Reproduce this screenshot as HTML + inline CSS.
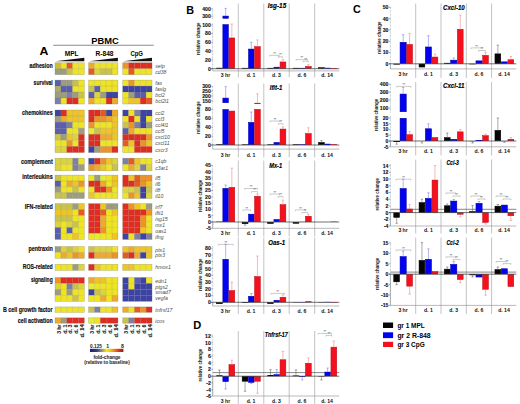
<!DOCTYPE html>
<html><head><meta charset="utf-8"><title>figure</title>
<style>
html,body{margin:0;padding:0;background:#fff;}
body{width:520px;height:404px;overflow:hidden;}
svg{display:block;font-family:"Liberation Sans", sans-serif;}
</style></head><body>
<svg width="520" height="404" viewBox="0 0 520 404" font-family='"Liberation Sans", sans-serif'>
<rect x="0" y="0" width="520" height="404" fill="#fff"/>
<text x="39.40" y="54.90" font-size="10.8" font-weight="bold" text-anchor="start" fill="#000" font-style="normal" textLength="8.9" lengthAdjust="spacingAndGlyphs" >A</text>
<text x="105.00" y="43.70" font-size="9.2" font-weight="bold" text-anchor="middle" fill="#000" font-style="normal" textLength="27.5" lengthAdjust="spacingAndGlyphs" >PBMC</text>
<line x1="53.20" y1="45.20" x2="153.70" y2="45.20" stroke="#8a8a8a" stroke-width="1.1" />
<text x="71.70" y="55.80" font-size="7.0" font-weight="bold" text-anchor="middle" fill="#000" font-style="normal" textLength="13.8" lengthAdjust="spacingAndGlyphs" >MPL</text>
<text x="104.50" y="55.80" font-size="7.0" font-weight="bold" text-anchor="middle" fill="#000" font-style="normal" textLength="18.0" lengthAdjust="spacingAndGlyphs" >R-848</text>
<text x="136.70" y="55.80" font-size="7.0" font-weight="bold" text-anchor="middle" fill="#000" font-style="normal" textLength="12.6" lengthAdjust="spacingAndGlyphs" >CpG</text>
<polygon points="55.30,61.2 84.30,57.7 84.30,61.2" fill="#111"/>
<polygon points="88.90,61.2 117.90,57.7 117.90,61.2" fill="#111"/>
<polygon points="123.00,61.2 152.00,57.7 152.00,61.2" fill="#111"/>
<rect x="55.00" y="62.75" width="5.91" height="5.97" fill="#d4bc2c" />
<rect x="60.86" y="62.75" width="5.91" height="5.97" fill="#efe424" />
<rect x="66.72" y="62.75" width="5.91" height="5.97" fill="#e45a22" />
<rect x="72.58" y="62.75" width="5.91" height="5.97" fill="#efe424" />
<rect x="78.44" y="62.75" width="5.91" height="5.97" fill="#efe424" />
<rect x="55.00" y="68.67" width="5.91" height="5.97" fill="#9c9c80" />
<rect x="60.86" y="68.67" width="5.91" height="5.97" fill="#9c9c80" />
<rect x="66.72" y="68.67" width="5.91" height="5.97" fill="#c9c34c" />
<rect x="72.58" y="68.67" width="5.91" height="5.97" fill="#efe424" />
<rect x="78.44" y="68.67" width="5.91" height="5.97" fill="#efe424" />
<line x1="60.86" y1="62.75" x2="60.86" y2="74.60" stroke="rgba(90,90,40,0.3)" stroke-width="0.5" />
<line x1="66.72" y1="62.75" x2="66.72" y2="74.60" stroke="rgba(90,90,40,0.3)" stroke-width="0.5" />
<line x1="72.58" y1="62.75" x2="72.58" y2="74.60" stroke="rgba(90,90,40,0.3)" stroke-width="0.5" />
<line x1="78.44" y1="62.75" x2="78.44" y2="74.60" stroke="rgba(90,90,40,0.3)" stroke-width="0.5" />
<line x1="55.00" y1="68.67" x2="84.30" y2="68.67" stroke="rgba(90,90,40,0.3)" stroke-width="0.5" />
<rect x="55.00" y="62.75" width="29.30" height="11.85" fill="none" stroke="rgba(110,110,90,0.4)" stroke-width="0.6"/>
<rect x="88.60" y="62.75" width="5.91" height="5.97" fill="#eeaa2c" />
<rect x="94.46" y="62.75" width="5.91" height="5.97" fill="#efe424" />
<rect x="100.32" y="62.75" width="5.91" height="5.97" fill="#efe424" />
<rect x="106.18" y="62.75" width="5.91" height="5.97" fill="#efe424" />
<rect x="112.04" y="62.75" width="5.91" height="5.97" fill="#efe424" />
<rect x="88.60" y="68.67" width="5.91" height="5.97" fill="#e45a22" />
<rect x="94.46" y="68.67" width="5.91" height="5.97" fill="#dcd43c" />
<rect x="100.32" y="68.67" width="5.91" height="5.97" fill="#c9c34c" />
<rect x="106.18" y="68.67" width="5.91" height="5.97" fill="#c9c34c" />
<rect x="112.04" y="68.67" width="5.91" height="5.97" fill="#efe424" />
<line x1="94.46" y1="62.75" x2="94.46" y2="74.60" stroke="rgba(90,90,40,0.3)" stroke-width="0.5" />
<line x1="100.32" y1="62.75" x2="100.32" y2="74.60" stroke="rgba(90,90,40,0.3)" stroke-width="0.5" />
<line x1="106.18" y1="62.75" x2="106.18" y2="74.60" stroke="rgba(90,90,40,0.3)" stroke-width="0.5" />
<line x1="112.04" y1="62.75" x2="112.04" y2="74.60" stroke="rgba(90,90,40,0.3)" stroke-width="0.5" />
<line x1="88.60" y1="68.67" x2="117.90" y2="68.67" stroke="rgba(90,90,40,0.3)" stroke-width="0.5" />
<rect x="88.60" y="62.75" width="29.30" height="11.85" fill="none" stroke="rgba(110,110,90,0.4)" stroke-width="0.6"/>
<rect x="122.70" y="62.75" width="5.91" height="5.97" fill="#ee9426" />
<rect x="128.56" y="62.75" width="5.91" height="5.97" fill="#e02c22" />
<rect x="134.42" y="62.75" width="5.91" height="5.97" fill="#e02c22" />
<rect x="140.28" y="62.75" width="5.91" height="5.97" fill="#e02c22" />
<rect x="146.14" y="62.75" width="5.91" height="5.97" fill="#e02c22" />
<rect x="122.70" y="68.67" width="5.91" height="5.97" fill="#efe424" />
<rect x="128.56" y="68.67" width="5.91" height="5.97" fill="#e45a22" />
<rect x="134.42" y="68.67" width="5.91" height="5.97" fill="#efe424" />
<rect x="140.28" y="68.67" width="5.91" height="5.97" fill="#efe424" />
<rect x="146.14" y="68.67" width="5.91" height="5.97" fill="#efe424" />
<line x1="128.56" y1="62.75" x2="128.56" y2="74.60" stroke="rgba(90,90,40,0.3)" stroke-width="0.5" />
<line x1="134.42" y1="62.75" x2="134.42" y2="74.60" stroke="rgba(90,90,40,0.3)" stroke-width="0.5" />
<line x1="140.28" y1="62.75" x2="140.28" y2="74.60" stroke="rgba(90,90,40,0.3)" stroke-width="0.5" />
<line x1="146.14" y1="62.75" x2="146.14" y2="74.60" stroke="rgba(90,90,40,0.3)" stroke-width="0.5" />
<line x1="122.70" y1="68.67" x2="152.00" y2="68.67" stroke="rgba(90,90,40,0.3)" stroke-width="0.5" />
<rect x="122.70" y="62.75" width="29.30" height="11.85" fill="none" stroke="rgba(110,110,90,0.4)" stroke-width="0.6"/>
<text x="52.70" y="67.91" font-size="6.7" font-weight="bold" text-anchor="end" fill="#111" font-style="normal" textLength="23.2" lengthAdjust="spacingAndGlyphs" stroke="#111" stroke-width="0.18">adhesion</text>
<g transform="translate(155.3 0) scale(0.86 1)">
<text x="0.00" y="67.81" font-size="6.0" font-weight="normal" text-anchor="start" fill="#4a4a4a" font-style="italic" >selp</text>
</g>
<g transform="translate(155.3 0) scale(0.86 1)">
<text x="0.00" y="73.74" font-size="6.0" font-weight="normal" text-anchor="start" fill="#4a4a4a" font-style="italic" >cd38</text>
</g>
<rect x="55.00" y="80.10" width="5.91" height="6.03" fill="#5a5eae" />
<rect x="60.86" y="80.10" width="5.91" height="6.03" fill="#9c9c80" />
<rect x="66.72" y="80.10" width="5.91" height="6.03" fill="#9c9c80" />
<rect x="72.58" y="80.10" width="5.91" height="6.03" fill="#c9c34c" />
<rect x="78.44" y="80.10" width="5.91" height="6.03" fill="#efe424" />
<rect x="55.00" y="86.07" width="5.91" height="6.03" fill="#b0ac68" />
<rect x="60.86" y="86.07" width="5.91" height="6.03" fill="#5a5eae" />
<rect x="66.72" y="86.07" width="5.91" height="6.03" fill="#5a5eae" />
<rect x="72.58" y="86.07" width="5.91" height="6.03" fill="#efe424" />
<rect x="78.44" y="86.07" width="5.91" height="6.03" fill="#efe424" />
<rect x="55.00" y="92.05" width="5.91" height="6.03" fill="#9c9c80" />
<rect x="60.86" y="92.05" width="5.91" height="6.03" fill="#9c9c80" />
<rect x="66.72" y="92.05" width="5.91" height="6.03" fill="#7d7fa6" />
<rect x="72.58" y="92.05" width="5.91" height="6.03" fill="#9c9c80" />
<rect x="78.44" y="92.05" width="5.91" height="6.03" fill="#c9c34c" />
<rect x="55.00" y="98.03" width="5.91" height="6.03" fill="#7d7fa6" />
<rect x="60.86" y="98.03" width="5.91" height="6.03" fill="#efe424" />
<rect x="66.72" y="98.03" width="5.91" height="6.03" fill="#e02c22" />
<rect x="72.58" y="98.03" width="5.91" height="6.03" fill="#e02c22" />
<rect x="78.44" y="98.03" width="5.91" height="6.03" fill="#efe424" />
<line x1="60.86" y1="80.10" x2="60.86" y2="104.00" stroke="rgba(90,90,40,0.3)" stroke-width="0.5" />
<line x1="66.72" y1="80.10" x2="66.72" y2="104.00" stroke="rgba(90,90,40,0.3)" stroke-width="0.5" />
<line x1="72.58" y1="80.10" x2="72.58" y2="104.00" stroke="rgba(90,90,40,0.3)" stroke-width="0.5" />
<line x1="78.44" y1="80.10" x2="78.44" y2="104.00" stroke="rgba(90,90,40,0.3)" stroke-width="0.5" />
<line x1="55.00" y1="86.07" x2="84.30" y2="86.07" stroke="rgba(90,90,40,0.3)" stroke-width="0.5" />
<line x1="55.00" y1="92.05" x2="84.30" y2="92.05" stroke="rgba(90,90,40,0.3)" stroke-width="0.5" />
<line x1="55.00" y1="98.03" x2="84.30" y2="98.03" stroke="rgba(90,90,40,0.3)" stroke-width="0.5" />
<rect x="55.00" y="80.10" width="29.30" height="23.90" fill="none" stroke="rgba(110,110,90,0.4)" stroke-width="0.6"/>
<rect x="88.60" y="80.10" width="5.91" height="6.03" fill="#efe424" />
<rect x="94.46" y="80.10" width="5.91" height="6.03" fill="#efe424" />
<rect x="100.32" y="80.10" width="5.91" height="6.03" fill="#efe424" />
<rect x="106.18" y="80.10" width="5.91" height="6.03" fill="#efe424" />
<rect x="112.04" y="80.10" width="5.91" height="6.03" fill="#efe424" />
<rect x="88.60" y="86.07" width="5.91" height="6.03" fill="#c9c34c" />
<rect x="94.46" y="86.07" width="5.91" height="6.03" fill="#5a5eae" />
<rect x="100.32" y="86.07" width="5.91" height="6.03" fill="#efe424" />
<rect x="106.18" y="86.07" width="5.91" height="6.03" fill="#efe424" />
<rect x="112.04" y="86.07" width="5.91" height="6.03" fill="#efe424" />
<rect x="88.60" y="92.05" width="5.91" height="6.03" fill="#5a5eae" />
<rect x="94.46" y="92.05" width="5.91" height="6.03" fill="#dcd43c" />
<rect x="100.32" y="92.05" width="5.91" height="6.03" fill="#9c9c80" />
<rect x="106.18" y="92.05" width="5.91" height="6.03" fill="#3c42a6" />
<rect x="112.04" y="92.05" width="5.91" height="6.03" fill="#3c42a6" />
<rect x="88.60" y="98.03" width="5.91" height="6.03" fill="#eeaa2c" />
<rect x="94.46" y="98.03" width="5.91" height="6.03" fill="#efe424" />
<rect x="100.32" y="98.03" width="5.91" height="6.03" fill="#efe424" />
<rect x="106.18" y="98.03" width="5.91" height="6.03" fill="#e02c22" />
<rect x="112.04" y="98.03" width="5.91" height="6.03" fill="#eeaa2c" />
<line x1="94.46" y1="80.10" x2="94.46" y2="104.00" stroke="rgba(90,90,40,0.3)" stroke-width="0.5" />
<line x1="100.32" y1="80.10" x2="100.32" y2="104.00" stroke="rgba(90,90,40,0.3)" stroke-width="0.5" />
<line x1="106.18" y1="80.10" x2="106.18" y2="104.00" stroke="rgba(90,90,40,0.3)" stroke-width="0.5" />
<line x1="112.04" y1="80.10" x2="112.04" y2="104.00" stroke="rgba(90,90,40,0.3)" stroke-width="0.5" />
<line x1="88.60" y1="86.07" x2="117.90" y2="86.07" stroke="rgba(90,90,40,0.3)" stroke-width="0.5" />
<line x1="88.60" y1="92.05" x2="117.90" y2="92.05" stroke="rgba(90,90,40,0.3)" stroke-width="0.5" />
<line x1="88.60" y1="98.03" x2="117.90" y2="98.03" stroke="rgba(90,90,40,0.3)" stroke-width="0.5" />
<rect x="88.60" y="80.10" width="29.30" height="23.90" fill="none" stroke="rgba(110,110,90,0.4)" stroke-width="0.6"/>
<rect x="122.70" y="80.10" width="5.91" height="6.03" fill="#efe424" />
<rect x="128.56" y="80.10" width="5.91" height="6.03" fill="#ee9426" />
<rect x="134.42" y="80.10" width="5.91" height="6.03" fill="#efe424" />
<rect x="140.28" y="80.10" width="5.91" height="6.03" fill="#efe424" />
<rect x="146.14" y="80.10" width="5.91" height="6.03" fill="#efe424" />
<rect x="122.70" y="86.07" width="5.91" height="6.03" fill="#3c42a6" />
<rect x="128.56" y="86.07" width="5.91" height="6.03" fill="#3c42a6" />
<rect x="134.42" y="86.07" width="5.91" height="6.03" fill="#3c42a6" />
<rect x="140.28" y="86.07" width="5.91" height="6.03" fill="#3c42a6" />
<rect x="146.14" y="86.07" width="5.91" height="6.03" fill="#3c42a6" />
<rect x="122.70" y="92.05" width="5.91" height="6.03" fill="#efe424" />
<rect x="128.56" y="92.05" width="5.91" height="6.03" fill="#9c9c80" />
<rect x="134.42" y="92.05" width="5.91" height="6.03" fill="#5a5eae" />
<rect x="140.28" y="92.05" width="5.91" height="6.03" fill="#5a5eae" />
<rect x="146.14" y="92.05" width="5.91" height="6.03" fill="#efe424" />
<rect x="122.70" y="98.03" width="5.91" height="6.03" fill="#efe424" />
<rect x="128.56" y="98.03" width="5.91" height="6.03" fill="#eec524" />
<rect x="134.42" y="98.03" width="5.91" height="6.03" fill="#eec524" />
<rect x="140.28" y="98.03" width="5.91" height="6.03" fill="#e02c22" />
<rect x="146.14" y="98.03" width="5.91" height="6.03" fill="#e45a22" />
<line x1="128.56" y1="80.10" x2="128.56" y2="104.00" stroke="rgba(90,90,40,0.3)" stroke-width="0.5" />
<line x1="134.42" y1="80.10" x2="134.42" y2="104.00" stroke="rgba(90,90,40,0.3)" stroke-width="0.5" />
<line x1="140.28" y1="80.10" x2="140.28" y2="104.00" stroke="rgba(90,90,40,0.3)" stroke-width="0.5" />
<line x1="146.14" y1="80.10" x2="146.14" y2="104.00" stroke="rgba(90,90,40,0.3)" stroke-width="0.5" />
<line x1="122.70" y1="86.07" x2="152.00" y2="86.07" stroke="rgba(90,90,40,0.3)" stroke-width="0.5" />
<line x1="122.70" y1="92.05" x2="152.00" y2="92.05" stroke="rgba(90,90,40,0.3)" stroke-width="0.5" />
<line x1="122.70" y1="98.03" x2="152.00" y2="98.03" stroke="rgba(90,90,40,0.3)" stroke-width="0.5" />
<rect x="122.70" y="80.10" width="29.30" height="23.90" fill="none" stroke="rgba(110,110,90,0.4)" stroke-width="0.6"/>
<text x="52.70" y="85.29" font-size="6.7" font-weight="bold" text-anchor="end" fill="#111" font-style="normal" textLength="19.1" lengthAdjust="spacingAndGlyphs" stroke="#111" stroke-width="0.18">survival</text>
<g transform="translate(155.3 0) scale(0.86 1)">
<text x="0.00" y="85.19" font-size="6.0" font-weight="normal" text-anchor="start" fill="#4a4a4a" font-style="italic" >fas</text>
</g>
<g transform="translate(155.3 0) scale(0.86 1)">
<text x="0.00" y="91.16" font-size="6.0" font-weight="normal" text-anchor="start" fill="#4a4a4a" font-style="italic" >faslg</text>
</g>
<g transform="translate(155.3 0) scale(0.86 1)">
<text x="0.00" y="97.14" font-size="6.0" font-weight="normal" text-anchor="start" fill="#4a4a4a" font-style="italic" >bcl2</text>
</g>
<g transform="translate(155.3 0) scale(0.86 1)">
<text x="0.00" y="103.11" font-size="6.0" font-weight="normal" text-anchor="start" fill="#4a4a4a" font-style="italic" >bcl2l1</text>
</g>
<rect x="55.00" y="110.00" width="5.91" height="6.12" fill="#3c42a6" />
<rect x="60.86" y="110.00" width="5.91" height="6.12" fill="#e02c22" />
<rect x="66.72" y="110.00" width="5.91" height="6.12" fill="#eec524" />
<rect x="72.58" y="110.00" width="5.91" height="6.12" fill="#eec524" />
<rect x="78.44" y="110.00" width="5.91" height="6.12" fill="#eec524" />
<rect x="55.00" y="116.07" width="5.91" height="6.12" fill="#9c9c80" />
<rect x="60.86" y="116.07" width="5.91" height="6.12" fill="#eeaa2c" />
<rect x="66.72" y="116.07" width="5.91" height="6.12" fill="#eec524" />
<rect x="72.58" y="116.07" width="5.91" height="6.12" fill="#eec524" />
<rect x="78.44" y="116.07" width="5.91" height="6.12" fill="#eec524" />
<rect x="55.00" y="122.14" width="5.91" height="6.12" fill="#5a5eae" />
<rect x="60.86" y="122.14" width="5.91" height="6.12" fill="#5a5eae" />
<rect x="66.72" y="122.14" width="5.91" height="6.12" fill="#7d7fa6" />
<rect x="72.58" y="122.14" width="5.91" height="6.12" fill="#efe424" />
<rect x="78.44" y="122.14" width="5.91" height="6.12" fill="#efe424" />
<rect x="55.00" y="128.21" width="5.91" height="6.12" fill="#5a5eae" />
<rect x="60.86" y="128.21" width="5.91" height="6.12" fill="#5a5eae" />
<rect x="66.72" y="128.21" width="5.91" height="6.12" fill="#efe424" />
<rect x="72.58" y="128.21" width="5.91" height="6.12" fill="#efe424" />
<rect x="78.44" y="128.21" width="5.91" height="6.12" fill="#9c9c80" />
<rect x="55.00" y="134.29" width="5.91" height="6.12" fill="#c9c34c" />
<rect x="60.86" y="134.29" width="5.91" height="6.12" fill="#9c9c80" />
<rect x="66.72" y="134.29" width="5.91" height="6.12" fill="#eec524" />
<rect x="72.58" y="134.29" width="5.91" height="6.12" fill="#dcd43c" />
<rect x="78.44" y="134.29" width="5.91" height="6.12" fill="#e02c22" />
<rect x="55.00" y="140.36" width="5.91" height="6.12" fill="#efe424" />
<rect x="60.86" y="140.36" width="5.91" height="6.12" fill="#efe424" />
<rect x="66.72" y="140.36" width="5.91" height="6.12" fill="#ee9426" />
<rect x="72.58" y="140.36" width="5.91" height="6.12" fill="#efe424" />
<rect x="78.44" y="140.36" width="5.91" height="6.12" fill="#e02c22" />
<rect x="55.00" y="146.43" width="5.91" height="6.12" fill="#dcd43c" />
<rect x="60.86" y="146.43" width="5.91" height="6.12" fill="#dcd43c" />
<rect x="66.72" y="146.43" width="5.91" height="6.12" fill="#e02c22" />
<rect x="72.58" y="146.43" width="5.91" height="6.12" fill="#e02c22" />
<rect x="78.44" y="146.43" width="5.91" height="6.12" fill="#e02c22" />
<line x1="60.86" y1="110.00" x2="60.86" y2="152.50" stroke="rgba(90,90,40,0.3)" stroke-width="0.5" />
<line x1="66.72" y1="110.00" x2="66.72" y2="152.50" stroke="rgba(90,90,40,0.3)" stroke-width="0.5" />
<line x1="72.58" y1="110.00" x2="72.58" y2="152.50" stroke="rgba(90,90,40,0.3)" stroke-width="0.5" />
<line x1="78.44" y1="110.00" x2="78.44" y2="152.50" stroke="rgba(90,90,40,0.3)" stroke-width="0.5" />
<line x1="55.00" y1="116.07" x2="84.30" y2="116.07" stroke="rgba(90,90,40,0.3)" stroke-width="0.5" />
<line x1="55.00" y1="122.14" x2="84.30" y2="122.14" stroke="rgba(90,90,40,0.3)" stroke-width="0.5" />
<line x1="55.00" y1="128.21" x2="84.30" y2="128.21" stroke="rgba(90,90,40,0.3)" stroke-width="0.5" />
<line x1="55.00" y1="134.29" x2="84.30" y2="134.29" stroke="rgba(90,90,40,0.3)" stroke-width="0.5" />
<line x1="55.00" y1="140.36" x2="84.30" y2="140.36" stroke="rgba(90,90,40,0.3)" stroke-width="0.5" />
<line x1="55.00" y1="146.43" x2="84.30" y2="146.43" stroke="rgba(90,90,40,0.3)" stroke-width="0.5" />
<rect x="55.00" y="110.00" width="29.30" height="42.50" fill="none" stroke="rgba(110,110,90,0.4)" stroke-width="0.6"/>
<rect x="88.60" y="110.00" width="5.91" height="6.12" fill="#e02c22" />
<rect x="94.46" y="110.00" width="5.91" height="6.12" fill="#e02c22" />
<rect x="100.32" y="110.00" width="5.91" height="6.12" fill="#e45a22" />
<rect x="106.18" y="110.00" width="5.91" height="6.12" fill="#3c42a6" />
<rect x="112.04" y="110.00" width="5.91" height="6.12" fill="#eeaa2c" />
<rect x="88.60" y="116.07" width="5.91" height="6.12" fill="#e02c22" />
<rect x="94.46" y="116.07" width="5.91" height="6.12" fill="#ee9426" />
<rect x="100.32" y="116.07" width="5.91" height="6.12" fill="#ee9426" />
<rect x="106.18" y="116.07" width="5.91" height="6.12" fill="#eeaa2c" />
<rect x="112.04" y="116.07" width="5.91" height="6.12" fill="#eec524" />
<rect x="88.60" y="122.14" width="5.91" height="6.12" fill="#ee9426" />
<rect x="94.46" y="122.14" width="5.91" height="6.12" fill="#efe424" />
<rect x="100.32" y="122.14" width="5.91" height="6.12" fill="#efe424" />
<rect x="106.18" y="122.14" width="5.91" height="6.12" fill="#efe424" />
<rect x="112.04" y="122.14" width="5.91" height="6.12" fill="#eec524" />
<rect x="88.60" y="128.21" width="5.91" height="6.12" fill="#e4ee30" />
<rect x="94.46" y="128.21" width="5.91" height="6.12" fill="#c9c34c" />
<rect x="100.32" y="128.21" width="5.91" height="6.12" fill="#eec524" />
<rect x="106.18" y="128.21" width="5.91" height="6.12" fill="#eec524" />
<rect x="112.04" y="128.21" width="5.91" height="6.12" fill="#eec524" />
<rect x="88.60" y="134.29" width="5.91" height="6.12" fill="#e02c22" />
<rect x="94.46" y="134.29" width="5.91" height="6.12" fill="#e02c22" />
<rect x="100.32" y="134.29" width="5.91" height="6.12" fill="#eeaa2c" />
<rect x="106.18" y="134.29" width="5.91" height="6.12" fill="#eeaa2c" />
<rect x="112.04" y="134.29" width="5.91" height="6.12" fill="#eec524" />
<rect x="88.60" y="140.36" width="5.91" height="6.12" fill="#e02c22" />
<rect x="94.46" y="140.36" width="5.91" height="6.12" fill="#e02c22" />
<rect x="100.32" y="140.36" width="5.91" height="6.12" fill="#efe424" />
<rect x="106.18" y="140.36" width="5.91" height="6.12" fill="#efe424" />
<rect x="112.04" y="140.36" width="5.91" height="6.12" fill="#efe424" />
<rect x="88.60" y="146.43" width="5.91" height="6.12" fill="#3c42a6" />
<rect x="94.46" y="146.43" width="5.91" height="6.12" fill="#9c9c80" />
<rect x="100.32" y="146.43" width="5.91" height="6.12" fill="#ee9426" />
<rect x="106.18" y="146.43" width="5.91" height="6.12" fill="#ee9426" />
<rect x="112.04" y="146.43" width="5.91" height="6.12" fill="#e02c22" />
<line x1="94.46" y1="110.00" x2="94.46" y2="152.50" stroke="rgba(90,90,40,0.3)" stroke-width="0.5" />
<line x1="100.32" y1="110.00" x2="100.32" y2="152.50" stroke="rgba(90,90,40,0.3)" stroke-width="0.5" />
<line x1="106.18" y1="110.00" x2="106.18" y2="152.50" stroke="rgba(90,90,40,0.3)" stroke-width="0.5" />
<line x1="112.04" y1="110.00" x2="112.04" y2="152.50" stroke="rgba(90,90,40,0.3)" stroke-width="0.5" />
<line x1="88.60" y1="116.07" x2="117.90" y2="116.07" stroke="rgba(90,90,40,0.3)" stroke-width="0.5" />
<line x1="88.60" y1="122.14" x2="117.90" y2="122.14" stroke="rgba(90,90,40,0.3)" stroke-width="0.5" />
<line x1="88.60" y1="128.21" x2="117.90" y2="128.21" stroke="rgba(90,90,40,0.3)" stroke-width="0.5" />
<line x1="88.60" y1="134.29" x2="117.90" y2="134.29" stroke="rgba(90,90,40,0.3)" stroke-width="0.5" />
<line x1="88.60" y1="140.36" x2="117.90" y2="140.36" stroke="rgba(90,90,40,0.3)" stroke-width="0.5" />
<line x1="88.60" y1="146.43" x2="117.90" y2="146.43" stroke="rgba(90,90,40,0.3)" stroke-width="0.5" />
<rect x="88.60" y="110.00" width="29.30" height="42.50" fill="none" stroke="rgba(110,110,90,0.4)" stroke-width="0.6"/>
<rect x="122.70" y="110.00" width="5.91" height="6.12" fill="#3c42a6" />
<rect x="128.56" y="110.00" width="5.91" height="6.12" fill="#efe424" />
<rect x="134.42" y="110.00" width="5.91" height="6.12" fill="#7d7fa6" />
<rect x="140.28" y="110.00" width="5.91" height="6.12" fill="#3c42a6" />
<rect x="146.14" y="110.00" width="5.91" height="6.12" fill="#3c42a6" />
<rect x="122.70" y="116.07" width="5.91" height="6.12" fill="#efe424" />
<rect x="128.56" y="116.07" width="5.91" height="6.12" fill="#e02c22" />
<rect x="134.42" y="116.07" width="5.91" height="6.12" fill="#efe424" />
<rect x="140.28" y="116.07" width="5.91" height="6.12" fill="#3c42a6" />
<rect x="146.14" y="116.07" width="5.91" height="6.12" fill="#efe424" />
<rect x="122.70" y="122.14" width="5.91" height="6.12" fill="#c9c34c" />
<rect x="128.56" y="122.14" width="5.91" height="6.12" fill="#ee9426" />
<rect x="134.42" y="122.14" width="5.91" height="6.12" fill="#7d7fa6" />
<rect x="140.28" y="122.14" width="5.91" height="6.12" fill="#3c42a6" />
<rect x="146.14" y="122.14" width="5.91" height="6.12" fill="#9c9c80" />
<rect x="122.70" y="128.21" width="5.91" height="6.12" fill="#5a5eae" />
<rect x="128.56" y="128.21" width="5.91" height="6.12" fill="#eeaa2c" />
<rect x="134.42" y="128.21" width="5.91" height="6.12" fill="#efe424" />
<rect x="140.28" y="128.21" width="5.91" height="6.12" fill="#efe424" />
<rect x="146.14" y="128.21" width="5.91" height="6.12" fill="#efe424" />
<rect x="122.70" y="134.29" width="5.91" height="6.12" fill="#e02c22" />
<rect x="128.56" y="134.29" width="5.91" height="6.12" fill="#e02c22" />
<rect x="134.42" y="134.29" width="5.91" height="6.12" fill="#e02c22" />
<rect x="140.28" y="134.29" width="5.91" height="6.12" fill="#e02c22" />
<rect x="146.14" y="134.29" width="5.91" height="6.12" fill="#ee9426" />
<rect x="122.70" y="140.36" width="5.91" height="6.12" fill="#e45a22" />
<rect x="128.56" y="140.36" width="5.91" height="6.12" fill="#eec524" />
<rect x="134.42" y="140.36" width="5.91" height="6.12" fill="#e02c22" />
<rect x="140.28" y="140.36" width="5.91" height="6.12" fill="#ee9426" />
<rect x="146.14" y="140.36" width="5.91" height="6.12" fill="#eec524" />
<rect x="122.70" y="146.43" width="5.91" height="6.12" fill="#efe424" />
<rect x="128.56" y="146.43" width="5.91" height="6.12" fill="#efe424" />
<rect x="134.42" y="146.43" width="5.91" height="6.12" fill="#e02c22" />
<rect x="140.28" y="146.43" width="5.91" height="6.12" fill="#e02c22" />
<rect x="146.14" y="146.43" width="5.91" height="6.12" fill="#e02c22" />
<line x1="128.56" y1="110.00" x2="128.56" y2="152.50" stroke="rgba(90,90,40,0.3)" stroke-width="0.5" />
<line x1="134.42" y1="110.00" x2="134.42" y2="152.50" stroke="rgba(90,90,40,0.3)" stroke-width="0.5" />
<line x1="140.28" y1="110.00" x2="140.28" y2="152.50" stroke="rgba(90,90,40,0.3)" stroke-width="0.5" />
<line x1="146.14" y1="110.00" x2="146.14" y2="152.50" stroke="rgba(90,90,40,0.3)" stroke-width="0.5" />
<line x1="122.70" y1="116.07" x2="152.00" y2="116.07" stroke="rgba(90,90,40,0.3)" stroke-width="0.5" />
<line x1="122.70" y1="122.14" x2="152.00" y2="122.14" stroke="rgba(90,90,40,0.3)" stroke-width="0.5" />
<line x1="122.70" y1="128.21" x2="152.00" y2="128.21" stroke="rgba(90,90,40,0.3)" stroke-width="0.5" />
<line x1="122.70" y1="134.29" x2="152.00" y2="134.29" stroke="rgba(90,90,40,0.3)" stroke-width="0.5" />
<line x1="122.70" y1="140.36" x2="152.00" y2="140.36" stroke="rgba(90,90,40,0.3)" stroke-width="0.5" />
<line x1="122.70" y1="146.43" x2="152.00" y2="146.43" stroke="rgba(90,90,40,0.3)" stroke-width="0.5" />
<rect x="122.70" y="110.00" width="29.30" height="42.50" fill="none" stroke="rgba(110,110,90,0.4)" stroke-width="0.6"/>
<text x="52.70" y="115.24" font-size="6.7" font-weight="bold" text-anchor="end" fill="#111" font-style="normal" textLength="30.7" lengthAdjust="spacingAndGlyphs" stroke="#111" stroke-width="0.18">chemokines</text>
<g transform="translate(155.3 0) scale(0.86 1)">
<text x="0.00" y="115.14" font-size="6.0" font-weight="normal" text-anchor="start" fill="#4a4a4a" font-style="italic" >ccl2</text>
</g>
<g transform="translate(155.3 0) scale(0.86 1)">
<text x="0.00" y="121.21" font-size="6.0" font-weight="normal" text-anchor="start" fill="#4a4a4a" font-style="italic" >ccl3</text>
</g>
<g transform="translate(155.3 0) scale(0.86 1)">
<text x="0.00" y="127.28" font-size="6.0" font-weight="normal" text-anchor="start" fill="#4a4a4a" font-style="italic" >ccl4l1</text>
</g>
<g transform="translate(155.3 0) scale(0.86 1)">
<text x="0.00" y="133.35" font-size="6.0" font-weight="normal" text-anchor="start" fill="#4a4a4a" font-style="italic" >ccl5</text>
</g>
<g transform="translate(155.3 0) scale(0.86 1)">
<text x="0.00" y="139.42" font-size="6.0" font-weight="normal" text-anchor="start" fill="#4a4a4a" font-style="italic" >cxcl10</text>
</g>
<g transform="translate(155.3 0) scale(0.86 1)">
<text x="0.00" y="145.49" font-size="6.0" font-weight="normal" text-anchor="start" fill="#4a4a4a" font-style="italic" >cxcl11</text>
</g>
<g transform="translate(155.3 0) scale(0.86 1)">
<text x="0.00" y="151.56" font-size="6.0" font-weight="normal" text-anchor="start" fill="#4a4a4a" font-style="italic" >cxcr3</text>
</g>
<rect x="55.00" y="158.20" width="5.91" height="6.30" fill="#dcd43c" />
<rect x="60.86" y="158.20" width="5.91" height="6.30" fill="#dcd43c" />
<rect x="66.72" y="158.20" width="5.91" height="6.30" fill="#dcd43c" />
<rect x="72.58" y="158.20" width="5.91" height="6.30" fill="#7d7fa6" />
<rect x="78.44" y="158.20" width="5.91" height="6.30" fill="#efe424" />
<rect x="55.00" y="164.45" width="5.91" height="6.30" fill="#dcd43c" />
<rect x="60.86" y="164.45" width="5.91" height="6.30" fill="#efe424" />
<rect x="66.72" y="164.45" width="5.91" height="6.30" fill="#efe424" />
<rect x="72.58" y="164.45" width="5.91" height="6.30" fill="#7d7fa6" />
<rect x="78.44" y="164.45" width="5.91" height="6.30" fill="#9c9c80" />
<line x1="60.86" y1="158.20" x2="60.86" y2="170.70" stroke="rgba(90,90,40,0.3)" stroke-width="0.5" />
<line x1="66.72" y1="158.20" x2="66.72" y2="170.70" stroke="rgba(90,90,40,0.3)" stroke-width="0.5" />
<line x1="72.58" y1="158.20" x2="72.58" y2="170.70" stroke="rgba(90,90,40,0.3)" stroke-width="0.5" />
<line x1="78.44" y1="158.20" x2="78.44" y2="170.70" stroke="rgba(90,90,40,0.3)" stroke-width="0.5" />
<line x1="55.00" y1="164.45" x2="84.30" y2="164.45" stroke="rgba(90,90,40,0.3)" stroke-width="0.5" />
<rect x="55.00" y="158.20" width="29.30" height="12.50" fill="none" stroke="rgba(110,110,90,0.4)" stroke-width="0.6"/>
<rect x="88.60" y="158.20" width="5.91" height="6.30" fill="#3c42a6" />
<rect x="94.46" y="158.20" width="5.91" height="6.30" fill="#e02c22" />
<rect x="100.32" y="158.20" width="5.91" height="6.30" fill="#ee9426" />
<rect x="106.18" y="158.20" width="5.91" height="6.30" fill="#eec524" />
<rect x="112.04" y="158.20" width="5.91" height="6.30" fill="#dcd43c" />
<rect x="88.60" y="164.45" width="5.91" height="6.30" fill="#ee9426" />
<rect x="94.46" y="164.45" width="5.91" height="6.30" fill="#eeaa2c" />
<rect x="100.32" y="164.45" width="5.91" height="6.30" fill="#eec524" />
<rect x="106.18" y="164.45" width="5.91" height="6.30" fill="#efe424" />
<rect x="112.04" y="164.45" width="5.91" height="6.30" fill="#c9c34c" />
<line x1="94.46" y1="158.20" x2="94.46" y2="170.70" stroke="rgba(90,90,40,0.3)" stroke-width="0.5" />
<line x1="100.32" y1="158.20" x2="100.32" y2="170.70" stroke="rgba(90,90,40,0.3)" stroke-width="0.5" />
<line x1="106.18" y1="158.20" x2="106.18" y2="170.70" stroke="rgba(90,90,40,0.3)" stroke-width="0.5" />
<line x1="112.04" y1="158.20" x2="112.04" y2="170.70" stroke="rgba(90,90,40,0.3)" stroke-width="0.5" />
<line x1="88.60" y1="164.45" x2="117.90" y2="164.45" stroke="rgba(90,90,40,0.3)" stroke-width="0.5" />
<rect x="88.60" y="158.20" width="29.30" height="12.50" fill="none" stroke="rgba(110,110,90,0.4)" stroke-width="0.6"/>
<rect x="122.70" y="158.20" width="5.91" height="6.30" fill="#7d7fa6" />
<rect x="128.56" y="158.20" width="5.91" height="6.30" fill="#e45a22" />
<rect x="134.42" y="158.20" width="5.91" height="6.30" fill="#eec524" />
<rect x="140.28" y="158.20" width="5.91" height="6.30" fill="#efe424" />
<rect x="146.14" y="158.20" width="5.91" height="6.30" fill="#efe424" />
<rect x="122.70" y="164.45" width="5.91" height="6.30" fill="#efe424" />
<rect x="128.56" y="164.45" width="5.91" height="6.30" fill="#eeaa2c" />
<rect x="134.42" y="164.45" width="5.91" height="6.30" fill="#dcd43c" />
<rect x="140.28" y="164.45" width="5.91" height="6.30" fill="#7d7fa6" />
<rect x="146.14" y="164.45" width="5.91" height="6.30" fill="#dcd43c" />
<line x1="128.56" y1="158.20" x2="128.56" y2="170.70" stroke="rgba(90,90,40,0.3)" stroke-width="0.5" />
<line x1="134.42" y1="158.20" x2="134.42" y2="170.70" stroke="rgba(90,90,40,0.3)" stroke-width="0.5" />
<line x1="140.28" y1="158.20" x2="140.28" y2="170.70" stroke="rgba(90,90,40,0.3)" stroke-width="0.5" />
<line x1="146.14" y1="158.20" x2="146.14" y2="170.70" stroke="rgba(90,90,40,0.3)" stroke-width="0.5" />
<line x1="122.70" y1="164.45" x2="152.00" y2="164.45" stroke="rgba(90,90,40,0.3)" stroke-width="0.5" />
<rect x="122.70" y="158.20" width="29.30" height="12.50" fill="none" stroke="rgba(110,110,90,0.4)" stroke-width="0.6"/>
<text x="52.70" y="163.52" font-size="6.7" font-weight="bold" text-anchor="end" fill="#111" font-style="normal" textLength="31.7" lengthAdjust="spacingAndGlyphs" stroke="#111" stroke-width="0.18">complement</text>
<g transform="translate(155.3 0) scale(0.86 1)">
<text x="0.00" y="163.42" font-size="6.0" font-weight="normal" text-anchor="start" fill="#4a4a4a" font-style="italic" >c1qb</text>
</g>
<g transform="translate(155.3 0) scale(0.86 1)">
<text x="0.00" y="169.67" font-size="6.0" font-weight="normal" text-anchor="start" fill="#4a4a4a" font-style="italic" >c3ar1</text>
</g>
<rect x="55.00" y="175.10" width="5.91" height="5.88" fill="#c9c34c" />
<rect x="60.86" y="175.10" width="5.91" height="5.88" fill="#efe424" />
<rect x="66.72" y="175.10" width="5.91" height="5.88" fill="#efe424" />
<rect x="72.58" y="175.10" width="5.91" height="5.88" fill="#efe424" />
<rect x="78.44" y="175.10" width="5.91" height="5.88" fill="#efe424" />
<rect x="55.00" y="180.93" width="5.91" height="5.88" fill="#5a5eae" />
<rect x="60.86" y="180.93" width="5.91" height="5.88" fill="#efe424" />
<rect x="66.72" y="180.93" width="5.91" height="5.88" fill="#eeaa2c" />
<rect x="72.58" y="180.93" width="5.91" height="5.88" fill="#eec524" />
<rect x="78.44" y="180.93" width="5.91" height="5.88" fill="#ee9426" />
<rect x="55.00" y="186.75" width="5.91" height="5.88" fill="#9c9c80" />
<rect x="60.86" y="186.75" width="5.91" height="5.88" fill="#efe424" />
<rect x="66.72" y="186.75" width="5.91" height="5.88" fill="#efe424" />
<rect x="72.58" y="186.75" width="5.91" height="5.88" fill="#c9c34c" />
<rect x="78.44" y="186.75" width="5.91" height="5.88" fill="#efe424" />
<rect x="55.00" y="192.57" width="5.91" height="5.88" fill="#c9c34c" />
<rect x="60.86" y="192.57" width="5.91" height="5.88" fill="#c9c34c" />
<rect x="66.72" y="192.57" width="5.91" height="5.88" fill="#9c9c80" />
<rect x="72.58" y="192.57" width="5.91" height="5.88" fill="#9c9c80" />
<rect x="78.44" y="192.57" width="5.91" height="5.88" fill="#9c9c80" />
<line x1="60.86" y1="175.10" x2="60.86" y2="198.40" stroke="rgba(90,90,40,0.3)" stroke-width="0.5" />
<line x1="66.72" y1="175.10" x2="66.72" y2="198.40" stroke="rgba(90,90,40,0.3)" stroke-width="0.5" />
<line x1="72.58" y1="175.10" x2="72.58" y2="198.40" stroke="rgba(90,90,40,0.3)" stroke-width="0.5" />
<line x1="78.44" y1="175.10" x2="78.44" y2="198.40" stroke="rgba(90,90,40,0.3)" stroke-width="0.5" />
<line x1="55.00" y1="180.93" x2="84.30" y2="180.93" stroke="rgba(90,90,40,0.3)" stroke-width="0.5" />
<line x1="55.00" y1="186.75" x2="84.30" y2="186.75" stroke="rgba(90,90,40,0.3)" stroke-width="0.5" />
<line x1="55.00" y1="192.57" x2="84.30" y2="192.57" stroke="rgba(90,90,40,0.3)" stroke-width="0.5" />
<rect x="55.00" y="175.10" width="29.30" height="23.30" fill="none" stroke="rgba(110,110,90,0.4)" stroke-width="0.6"/>
<rect x="88.60" y="175.10" width="5.91" height="5.88" fill="#efe424" />
<rect x="94.46" y="175.10" width="5.91" height="5.88" fill="#9c9c80" />
<rect x="100.32" y="175.10" width="5.91" height="5.88" fill="#e4ee30" />
<rect x="106.18" y="175.10" width="5.91" height="5.88" fill="#efe424" />
<rect x="112.04" y="175.10" width="5.91" height="5.88" fill="#eec524" />
<rect x="88.60" y="180.93" width="5.91" height="5.88" fill="#e02c22" />
<rect x="94.46" y="180.93" width="5.91" height="5.88" fill="#e02c22" />
<rect x="100.32" y="180.93" width="5.91" height="5.88" fill="#eeaa2c" />
<rect x="106.18" y="180.93" width="5.91" height="5.88" fill="#efe424" />
<rect x="112.04" y="180.93" width="5.91" height="5.88" fill="#eec524" />
<rect x="88.60" y="186.75" width="5.91" height="5.88" fill="#efe424" />
<rect x="94.46" y="186.75" width="5.91" height="5.88" fill="#e02c22" />
<rect x="100.32" y="186.75" width="5.91" height="5.88" fill="#e02c22" />
<rect x="106.18" y="186.75" width="5.91" height="5.88" fill="#ee9426" />
<rect x="112.04" y="186.75" width="5.91" height="5.88" fill="#efe424" />
<rect x="88.60" y="192.57" width="5.91" height="5.88" fill="#eec524" />
<rect x="94.46" y="192.57" width="5.91" height="5.88" fill="#efe424" />
<rect x="100.32" y="192.57" width="5.91" height="5.88" fill="#efe424" />
<rect x="106.18" y="192.57" width="5.91" height="5.88" fill="#efe424" />
<rect x="112.04" y="192.57" width="5.91" height="5.88" fill="#efe424" />
<line x1="94.46" y1="175.10" x2="94.46" y2="198.40" stroke="rgba(90,90,40,0.3)" stroke-width="0.5" />
<line x1="100.32" y1="175.10" x2="100.32" y2="198.40" stroke="rgba(90,90,40,0.3)" stroke-width="0.5" />
<line x1="106.18" y1="175.10" x2="106.18" y2="198.40" stroke="rgba(90,90,40,0.3)" stroke-width="0.5" />
<line x1="112.04" y1="175.10" x2="112.04" y2="198.40" stroke="rgba(90,90,40,0.3)" stroke-width="0.5" />
<line x1="88.60" y1="180.93" x2="117.90" y2="180.93" stroke="rgba(90,90,40,0.3)" stroke-width="0.5" />
<line x1="88.60" y1="186.75" x2="117.90" y2="186.75" stroke="rgba(90,90,40,0.3)" stroke-width="0.5" />
<line x1="88.60" y1="192.57" x2="117.90" y2="192.57" stroke="rgba(90,90,40,0.3)" stroke-width="0.5" />
<rect x="88.60" y="175.10" width="29.30" height="23.30" fill="none" stroke="rgba(110,110,90,0.4)" stroke-width="0.6"/>
<rect x="122.70" y="175.10" width="5.91" height="5.88" fill="#e02c22" />
<rect x="128.56" y="175.10" width="5.91" height="5.88" fill="#eec524" />
<rect x="134.42" y="175.10" width="5.91" height="5.88" fill="#e45a22" />
<rect x="140.28" y="175.10" width="5.91" height="5.88" fill="#ee9426" />
<rect x="146.14" y="175.10" width="5.91" height="5.88" fill="#ee9426" />
<rect x="122.70" y="180.93" width="5.91" height="5.88" fill="#e02c22" />
<rect x="128.56" y="180.93" width="5.91" height="5.88" fill="#e02c22" />
<rect x="134.42" y="180.93" width="5.91" height="5.88" fill="#e45a22" />
<rect x="140.28" y="180.93" width="5.91" height="5.88" fill="#ee9426" />
<rect x="146.14" y="180.93" width="5.91" height="5.88" fill="#eec524" />
<rect x="122.70" y="186.75" width="5.91" height="5.88" fill="#dcd43c" />
<rect x="128.56" y="186.75" width="5.91" height="5.88" fill="#dcd43c" />
<rect x="134.42" y="186.75" width="5.91" height="5.88" fill="#c9c34c" />
<rect x="140.28" y="186.75" width="5.91" height="5.88" fill="#3c42a6" />
<rect x="146.14" y="186.75" width="5.91" height="5.88" fill="#c9c34c" />
<rect x="122.70" y="192.57" width="5.91" height="5.88" fill="#efe424" />
<rect x="128.56" y="192.57" width="5.91" height="5.88" fill="#ee9426" />
<rect x="134.42" y="192.57" width="5.91" height="5.88" fill="#eec524" />
<rect x="140.28" y="192.57" width="5.91" height="5.88" fill="#3c42a6" />
<rect x="146.14" y="192.57" width="5.91" height="5.88" fill="#dcd43c" />
<line x1="128.56" y1="175.10" x2="128.56" y2="198.40" stroke="rgba(90,90,40,0.3)" stroke-width="0.5" />
<line x1="134.42" y1="175.10" x2="134.42" y2="198.40" stroke="rgba(90,90,40,0.3)" stroke-width="0.5" />
<line x1="140.28" y1="175.10" x2="140.28" y2="198.40" stroke="rgba(90,90,40,0.3)" stroke-width="0.5" />
<line x1="146.14" y1="175.10" x2="146.14" y2="198.40" stroke="rgba(90,90,40,0.3)" stroke-width="0.5" />
<line x1="122.70" y1="180.93" x2="152.00" y2="180.93" stroke="rgba(90,90,40,0.3)" stroke-width="0.5" />
<line x1="122.70" y1="186.75" x2="152.00" y2="186.75" stroke="rgba(90,90,40,0.3)" stroke-width="0.5" />
<line x1="122.70" y1="192.57" x2="152.00" y2="192.57" stroke="rgba(90,90,40,0.3)" stroke-width="0.5" />
<rect x="122.70" y="175.10" width="29.30" height="23.30" fill="none" stroke="rgba(110,110,90,0.4)" stroke-width="0.6"/>
<text x="52.70" y="178.90" font-size="6.7" font-weight="bold" text-anchor="end" fill="#111" font-style="normal" textLength="30.4" lengthAdjust="spacingAndGlyphs" stroke="#111" stroke-width="0.18">interleukins</text>
<g transform="translate(155.3 0) scale(0.86 1)">
<text x="0.00" y="180.11" font-size="6.0" font-weight="normal" text-anchor="start" fill="#4a4a4a" font-style="italic" >il5</text>
</g>
<g transform="translate(155.3 0) scale(0.86 1)">
<text x="0.00" y="185.94" font-size="6.0" font-weight="normal" text-anchor="start" fill="#4a4a4a" font-style="italic" >il6</text>
</g>
<g transform="translate(155.3 0) scale(0.86 1)">
<text x="0.00" y="191.76" font-size="6.0" font-weight="normal" text-anchor="start" fill="#4a4a4a" font-style="italic" >il8</text>
</g>
<g transform="translate(155.3 0) scale(0.86 1)">
<text x="0.00" y="197.59" font-size="6.0" font-weight="normal" text-anchor="start" fill="#4a4a4a" font-style="italic" >il10</text>
</g>
<rect x="55.00" y="203.60" width="5.91" height="6.02" fill="#c9c34c" />
<rect x="60.86" y="203.60" width="5.91" height="6.02" fill="#c9c34c" />
<rect x="66.72" y="203.60" width="5.91" height="6.02" fill="#c9c34c" />
<rect x="72.58" y="203.60" width="5.91" height="6.02" fill="#9c9c80" />
<rect x="78.44" y="203.60" width="5.91" height="6.02" fill="#eec524" />
<rect x="55.00" y="209.57" width="5.91" height="6.02" fill="#eec524" />
<rect x="60.86" y="209.57" width="5.91" height="6.02" fill="#eec524" />
<rect x="66.72" y="209.57" width="5.91" height="6.02" fill="#eec524" />
<rect x="72.58" y="209.57" width="5.91" height="6.02" fill="#efe424" />
<rect x="78.44" y="209.57" width="5.91" height="6.02" fill="#e45a22" />
<rect x="55.00" y="215.53" width="5.91" height="6.02" fill="#c9c34c" />
<rect x="60.86" y="215.53" width="5.91" height="6.02" fill="#c9c34c" />
<rect x="66.72" y="215.53" width="5.91" height="6.02" fill="#c9c34c" />
<rect x="72.58" y="215.53" width="5.91" height="6.02" fill="#efe424" />
<rect x="78.44" y="215.53" width="5.91" height="6.02" fill="#efe424" />
<rect x="55.00" y="221.50" width="5.91" height="6.02" fill="#dcd43c" />
<rect x="60.86" y="221.50" width="5.91" height="6.02" fill="#efe424" />
<rect x="66.72" y="221.50" width="5.91" height="6.02" fill="#dcd43c" />
<rect x="72.58" y="221.50" width="5.91" height="6.02" fill="#c9c34c" />
<rect x="78.44" y="221.50" width="5.91" height="6.02" fill="#efe424" />
<rect x="55.00" y="227.47" width="5.91" height="6.02" fill="#5a5eae" />
<rect x="60.86" y="227.47" width="5.91" height="6.02" fill="#efe424" />
<rect x="66.72" y="227.47" width="5.91" height="6.02" fill="#5a5eae" />
<rect x="72.58" y="227.47" width="5.91" height="6.02" fill="#efe424" />
<rect x="78.44" y="227.47" width="5.91" height="6.02" fill="#efe424" />
<rect x="55.00" y="233.43" width="5.91" height="6.02" fill="#5a5eae" />
<rect x="60.86" y="233.43" width="5.91" height="6.02" fill="#efe424" />
<rect x="66.72" y="233.43" width="5.91" height="6.02" fill="#efe424" />
<rect x="72.58" y="233.43" width="5.91" height="6.02" fill="#eec524" />
<rect x="78.44" y="233.43" width="5.91" height="6.02" fill="#efe424" />
<line x1="60.86" y1="203.60" x2="60.86" y2="239.40" stroke="rgba(90,90,40,0.3)" stroke-width="0.5" />
<line x1="66.72" y1="203.60" x2="66.72" y2="239.40" stroke="rgba(90,90,40,0.3)" stroke-width="0.5" />
<line x1="72.58" y1="203.60" x2="72.58" y2="239.40" stroke="rgba(90,90,40,0.3)" stroke-width="0.5" />
<line x1="78.44" y1="203.60" x2="78.44" y2="239.40" stroke="rgba(90,90,40,0.3)" stroke-width="0.5" />
<line x1="55.00" y1="209.57" x2="84.30" y2="209.57" stroke="rgba(90,90,40,0.3)" stroke-width="0.5" />
<line x1="55.00" y1="215.53" x2="84.30" y2="215.53" stroke="rgba(90,90,40,0.3)" stroke-width="0.5" />
<line x1="55.00" y1="221.50" x2="84.30" y2="221.50" stroke="rgba(90,90,40,0.3)" stroke-width="0.5" />
<line x1="55.00" y1="227.47" x2="84.30" y2="227.47" stroke="rgba(90,90,40,0.3)" stroke-width="0.5" />
<line x1="55.00" y1="233.43" x2="84.30" y2="233.43" stroke="rgba(90,90,40,0.3)" stroke-width="0.5" />
<rect x="55.00" y="203.60" width="29.30" height="35.80" fill="none" stroke="rgba(110,110,90,0.4)" stroke-width="0.6"/>
<rect x="88.60" y="203.60" width="5.91" height="6.02" fill="#e02c22" />
<rect x="94.46" y="203.60" width="5.91" height="6.02" fill="#e02c22" />
<rect x="100.32" y="203.60" width="5.91" height="6.02" fill="#eec524" />
<rect x="106.18" y="203.60" width="5.91" height="6.02" fill="#9c9c80" />
<rect x="112.04" y="203.60" width="5.91" height="6.02" fill="#9c9c80" />
<rect x="88.60" y="209.57" width="5.91" height="6.02" fill="#e02c22" />
<rect x="94.46" y="209.57" width="5.91" height="6.02" fill="#e02c22" />
<rect x="100.32" y="209.57" width="5.91" height="6.02" fill="#e45a22" />
<rect x="106.18" y="209.57" width="5.91" height="6.02" fill="#efe424" />
<rect x="112.04" y="209.57" width="5.91" height="6.02" fill="#eec524" />
<rect x="88.60" y="215.53" width="5.91" height="6.02" fill="#e02c22" />
<rect x="94.46" y="215.53" width="5.91" height="6.02" fill="#e02c22" />
<rect x="100.32" y="215.53" width="5.91" height="6.02" fill="#eeaa2c" />
<rect x="106.18" y="215.53" width="5.91" height="6.02" fill="#efe424" />
<rect x="112.04" y="215.53" width="5.91" height="6.02" fill="#efe424" />
<rect x="88.60" y="221.50" width="5.91" height="6.02" fill="#e02c22" />
<rect x="94.46" y="221.50" width="5.91" height="6.02" fill="#e02c22" />
<rect x="100.32" y="221.50" width="5.91" height="6.02" fill="#eeaa2c" />
<rect x="106.18" y="221.50" width="5.91" height="6.02" fill="#efe424" />
<rect x="112.04" y="221.50" width="5.91" height="6.02" fill="#efe424" />
<rect x="88.60" y="227.47" width="5.91" height="6.02" fill="#e02c22" />
<rect x="94.46" y="227.47" width="5.91" height="6.02" fill="#e02c22" />
<rect x="100.32" y="227.47" width="5.91" height="6.02" fill="#ee9426" />
<rect x="106.18" y="227.47" width="5.91" height="6.02" fill="#efe424" />
<rect x="112.04" y="227.47" width="5.91" height="6.02" fill="#efe424" />
<rect x="88.60" y="233.43" width="5.91" height="6.02" fill="#efe424" />
<rect x="94.46" y="233.43" width="5.91" height="6.02" fill="#e4ee30" />
<rect x="100.32" y="233.43" width="5.91" height="6.02" fill="#efe424" />
<rect x="106.18" y="233.43" width="5.91" height="6.02" fill="#efe424" />
<rect x="112.04" y="233.43" width="5.91" height="6.02" fill="#eec524" />
<line x1="94.46" y1="203.60" x2="94.46" y2="239.40" stroke="rgba(90,90,40,0.3)" stroke-width="0.5" />
<line x1="100.32" y1="203.60" x2="100.32" y2="239.40" stroke="rgba(90,90,40,0.3)" stroke-width="0.5" />
<line x1="106.18" y1="203.60" x2="106.18" y2="239.40" stroke="rgba(90,90,40,0.3)" stroke-width="0.5" />
<line x1="112.04" y1="203.60" x2="112.04" y2="239.40" stroke="rgba(90,90,40,0.3)" stroke-width="0.5" />
<line x1="88.60" y1="209.57" x2="117.90" y2="209.57" stroke="rgba(90,90,40,0.3)" stroke-width="0.5" />
<line x1="88.60" y1="215.53" x2="117.90" y2="215.53" stroke="rgba(90,90,40,0.3)" stroke-width="0.5" />
<line x1="88.60" y1="221.50" x2="117.90" y2="221.50" stroke="rgba(90,90,40,0.3)" stroke-width="0.5" />
<line x1="88.60" y1="227.47" x2="117.90" y2="227.47" stroke="rgba(90,90,40,0.3)" stroke-width="0.5" />
<line x1="88.60" y1="233.43" x2="117.90" y2="233.43" stroke="rgba(90,90,40,0.3)" stroke-width="0.5" />
<rect x="88.60" y="203.60" width="29.30" height="35.80" fill="none" stroke="rgba(110,110,90,0.4)" stroke-width="0.6"/>
<rect x="122.70" y="203.60" width="5.91" height="6.02" fill="#e02c22" />
<rect x="128.56" y="203.60" width="5.91" height="6.02" fill="#ee9426" />
<rect x="134.42" y="203.60" width="5.91" height="6.02" fill="#eec524" />
<rect x="140.28" y="203.60" width="5.91" height="6.02" fill="#efe424" />
<rect x="146.14" y="203.60" width="5.91" height="6.02" fill="#9c9c80" />
<rect x="122.70" y="209.57" width="5.91" height="6.02" fill="#e02c22" />
<rect x="128.56" y="209.57" width="5.91" height="6.02" fill="#e02c22" />
<rect x="134.42" y="209.57" width="5.91" height="6.02" fill="#e02c22" />
<rect x="140.28" y="209.57" width="5.91" height="6.02" fill="#e02c22" />
<rect x="146.14" y="209.57" width="5.91" height="6.02" fill="#ee9426" />
<rect x="122.70" y="215.53" width="5.91" height="6.02" fill="#e02c22" />
<rect x="128.56" y="215.53" width="5.91" height="6.02" fill="#e02c22" />
<rect x="134.42" y="215.53" width="5.91" height="6.02" fill="#e02c22" />
<rect x="140.28" y="215.53" width="5.91" height="6.02" fill="#ee9426" />
<rect x="146.14" y="215.53" width="5.91" height="6.02" fill="#efe424" />
<rect x="122.70" y="221.50" width="5.91" height="6.02" fill="#e02c22" />
<rect x="128.56" y="221.50" width="5.91" height="6.02" fill="#e02c22" />
<rect x="134.42" y="221.50" width="5.91" height="6.02" fill="#e02c22" />
<rect x="140.28" y="221.50" width="5.91" height="6.02" fill="#ee9426" />
<rect x="146.14" y="221.50" width="5.91" height="6.02" fill="#efe424" />
<rect x="122.70" y="227.47" width="5.91" height="6.02" fill="#e02c22" />
<rect x="128.56" y="227.47" width="5.91" height="6.02" fill="#e02c22" />
<rect x="134.42" y="227.47" width="5.91" height="6.02" fill="#e02c22" />
<rect x="140.28" y="227.47" width="5.91" height="6.02" fill="#eec524" />
<rect x="146.14" y="227.47" width="5.91" height="6.02" fill="#efe424" />
<rect x="122.70" y="233.43" width="5.91" height="6.02" fill="#3c42a6" />
<rect x="128.56" y="233.43" width="5.91" height="6.02" fill="#efe424" />
<rect x="134.42" y="233.43" width="5.91" height="6.02" fill="#7d7fa6" />
<rect x="140.28" y="233.43" width="5.91" height="6.02" fill="#3c42a6" />
<rect x="146.14" y="233.43" width="5.91" height="6.02" fill="#7d7fa6" />
<line x1="128.56" y1="203.60" x2="128.56" y2="239.40" stroke="rgba(90,90,40,0.3)" stroke-width="0.5" />
<line x1="134.42" y1="203.60" x2="134.42" y2="239.40" stroke="rgba(90,90,40,0.3)" stroke-width="0.5" />
<line x1="140.28" y1="203.60" x2="140.28" y2="239.40" stroke="rgba(90,90,40,0.3)" stroke-width="0.5" />
<line x1="146.14" y1="203.60" x2="146.14" y2="239.40" stroke="rgba(90,90,40,0.3)" stroke-width="0.5" />
<line x1="122.70" y1="209.57" x2="152.00" y2="209.57" stroke="rgba(90,90,40,0.3)" stroke-width="0.5" />
<line x1="122.70" y1="215.53" x2="152.00" y2="215.53" stroke="rgba(90,90,40,0.3)" stroke-width="0.5" />
<line x1="122.70" y1="221.50" x2="152.00" y2="221.50" stroke="rgba(90,90,40,0.3)" stroke-width="0.5" />
<line x1="122.70" y1="227.47" x2="152.00" y2="227.47" stroke="rgba(90,90,40,0.3)" stroke-width="0.5" />
<line x1="122.70" y1="233.43" x2="152.00" y2="233.43" stroke="rgba(90,90,40,0.3)" stroke-width="0.5" />
<rect x="122.70" y="203.60" width="29.30" height="35.80" fill="none" stroke="rgba(110,110,90,0.4)" stroke-width="0.6"/>
<text x="52.70" y="208.78" font-size="6.7" font-weight="bold" text-anchor="end" fill="#111" font-style="normal" textLength="27.9" lengthAdjust="spacingAndGlyphs" stroke="#111" stroke-width="0.18">IFN-related</text>
<g transform="translate(155.3 0) scale(0.86 1)">
<text x="0.00" y="208.68" font-size="6.0" font-weight="normal" text-anchor="start" fill="#4a4a4a" font-style="italic" >irf7</text>
</g>
<g transform="translate(155.3 0) scale(0.86 1)">
<text x="0.00" y="214.65" font-size="6.0" font-weight="normal" text-anchor="start" fill="#4a4a4a" font-style="italic" >ifit1</text>
</g>
<g transform="translate(155.3 0) scale(0.86 1)">
<text x="0.00" y="220.62" font-size="6.0" font-weight="normal" text-anchor="start" fill="#4a4a4a" font-style="italic" >isg15</text>
</g>
<g transform="translate(155.3 0) scale(0.86 1)">
<text x="0.00" y="226.58" font-size="6.0" font-weight="normal" text-anchor="start" fill="#4a4a4a" font-style="italic" >mx1</text>
</g>
<g transform="translate(155.3 0) scale(0.86 1)">
<text x="0.00" y="232.55" font-size="6.0" font-weight="normal" text-anchor="start" fill="#4a4a4a" font-style="italic" >oas1</text>
</g>
<g transform="translate(155.3 0) scale(0.86 1)">
<text x="0.00" y="238.52" font-size="6.0" font-weight="normal" text-anchor="start" fill="#4a4a4a" font-style="italic" >ifng</text>
</g>
<rect x="55.00" y="246.50" width="5.91" height="5.95" fill="#9c9c80" />
<rect x="60.86" y="246.50" width="5.91" height="5.95" fill="#dcd43c" />
<rect x="66.72" y="246.50" width="5.91" height="5.95" fill="#c9c34c" />
<rect x="72.58" y="246.50" width="5.91" height="5.95" fill="#dcd43c" />
<rect x="78.44" y="246.50" width="5.91" height="5.95" fill="#efe424" />
<rect x="55.00" y="252.40" width="5.91" height="5.95" fill="#efe424" />
<rect x="60.86" y="252.40" width="5.91" height="5.95" fill="#eeaa2c" />
<rect x="66.72" y="252.40" width="5.91" height="5.95" fill="#eec524" />
<rect x="72.58" y="252.40" width="5.91" height="5.95" fill="#ee9426" />
<rect x="78.44" y="252.40" width="5.91" height="5.95" fill="#eeaa2c" />
<line x1="60.86" y1="246.50" x2="60.86" y2="258.30" stroke="rgba(90,90,40,0.3)" stroke-width="0.5" />
<line x1="66.72" y1="246.50" x2="66.72" y2="258.30" stroke="rgba(90,90,40,0.3)" stroke-width="0.5" />
<line x1="72.58" y1="246.50" x2="72.58" y2="258.30" stroke="rgba(90,90,40,0.3)" stroke-width="0.5" />
<line x1="78.44" y1="246.50" x2="78.44" y2="258.30" stroke="rgba(90,90,40,0.3)" stroke-width="0.5" />
<line x1="55.00" y1="252.40" x2="84.30" y2="252.40" stroke="rgba(90,90,40,0.3)" stroke-width="0.5" />
<rect x="55.00" y="246.50" width="29.30" height="11.80" fill="none" stroke="rgba(110,110,90,0.4)" stroke-width="0.6"/>
<rect x="88.60" y="246.50" width="5.91" height="5.95" fill="#c9c34c" />
<rect x="94.46" y="246.50" width="5.91" height="5.95" fill="#dcd43c" />
<rect x="100.32" y="246.50" width="5.91" height="5.95" fill="#dcd43c" />
<rect x="106.18" y="246.50" width="5.91" height="5.95" fill="#dcd43c" />
<rect x="112.04" y="246.50" width="5.91" height="5.95" fill="#efe424" />
<rect x="88.60" y="252.40" width="5.91" height="5.95" fill="#e02c22" />
<rect x="94.46" y="252.40" width="5.91" height="5.95" fill="#eeaa2c" />
<rect x="100.32" y="252.40" width="5.91" height="5.95" fill="#eeaa2c" />
<rect x="106.18" y="252.40" width="5.91" height="5.95" fill="#eeaa2c" />
<rect x="112.04" y="252.40" width="5.91" height="5.95" fill="#ee9426" />
<line x1="94.46" y1="246.50" x2="94.46" y2="258.30" stroke="rgba(90,90,40,0.3)" stroke-width="0.5" />
<line x1="100.32" y1="246.50" x2="100.32" y2="258.30" stroke="rgba(90,90,40,0.3)" stroke-width="0.5" />
<line x1="106.18" y1="246.50" x2="106.18" y2="258.30" stroke="rgba(90,90,40,0.3)" stroke-width="0.5" />
<line x1="112.04" y1="246.50" x2="112.04" y2="258.30" stroke="rgba(90,90,40,0.3)" stroke-width="0.5" />
<line x1="88.60" y1="252.40" x2="117.90" y2="252.40" stroke="rgba(90,90,40,0.3)" stroke-width="0.5" />
<rect x="88.60" y="246.50" width="29.30" height="11.80" fill="none" stroke="rgba(110,110,90,0.4)" stroke-width="0.6"/>
<rect x="122.70" y="246.50" width="5.91" height="5.95" fill="#eec524" />
<rect x="128.56" y="246.50" width="5.91" height="5.95" fill="#eeaa2c" />
<rect x="134.42" y="246.50" width="5.91" height="5.95" fill="#eec524" />
<rect x="140.28" y="246.50" width="5.91" height="5.95" fill="#eec524" />
<rect x="146.14" y="246.50" width="5.91" height="5.95" fill="#eec524" />
<rect x="122.70" y="252.40" width="5.91" height="5.95" fill="#e45a22" />
<rect x="128.56" y="252.40" width="5.91" height="5.95" fill="#e02c22" />
<rect x="134.42" y="252.40" width="5.91" height="5.95" fill="#eeaa2c" />
<rect x="140.28" y="252.40" width="5.91" height="5.95" fill="#3c42a6" />
<rect x="146.14" y="252.40" width="5.91" height="5.95" fill="#eec524" />
<line x1="128.56" y1="246.50" x2="128.56" y2="258.30" stroke="rgba(90,90,40,0.3)" stroke-width="0.5" />
<line x1="134.42" y1="246.50" x2="134.42" y2="258.30" stroke="rgba(90,90,40,0.3)" stroke-width="0.5" />
<line x1="140.28" y1="246.50" x2="140.28" y2="258.30" stroke="rgba(90,90,40,0.3)" stroke-width="0.5" />
<line x1="146.14" y1="246.50" x2="146.14" y2="258.30" stroke="rgba(90,90,40,0.3)" stroke-width="0.5" />
<line x1="122.70" y1="252.40" x2="152.00" y2="252.40" stroke="rgba(90,90,40,0.3)" stroke-width="0.5" />
<rect x="122.70" y="246.50" width="29.30" height="11.80" fill="none" stroke="rgba(110,110,90,0.4)" stroke-width="0.6"/>
<text x="52.70" y="251.40" font-size="6.7" font-weight="bold" text-anchor="end" fill="#111" font-style="normal" textLength="24.2" lengthAdjust="spacingAndGlyphs" stroke="#111" stroke-width="0.18">pentraxin</text>
<g transform="translate(155.3 0) scale(0.86 1)">
<text x="0.00" y="251.55" font-size="6.0" font-weight="normal" text-anchor="start" fill="#4a4a4a" font-style="italic" >ptx1</text>
</g>
<g transform="translate(155.3 0) scale(0.86 1)">
<text x="0.00" y="257.45" font-size="6.0" font-weight="normal" text-anchor="start" fill="#4a4a4a" font-style="italic" >ptx3</text>
</g>
<rect x="55.00" y="264.30" width="5.91" height="6.05" fill="#efe424" />
<rect x="60.86" y="264.30" width="5.91" height="6.05" fill="#efe424" />
<rect x="66.72" y="264.30" width="5.91" height="6.05" fill="#efe424" />
<rect x="72.58" y="264.30" width="5.91" height="6.05" fill="#9c9c80" />
<rect x="78.44" y="264.30" width="5.91" height="6.05" fill="#dcd43c" />
<line x1="60.86" y1="264.30" x2="60.86" y2="270.30" stroke="rgba(90,90,40,0.3)" stroke-width="0.5" />
<line x1="66.72" y1="264.30" x2="66.72" y2="270.30" stroke="rgba(90,90,40,0.3)" stroke-width="0.5" />
<line x1="72.58" y1="264.30" x2="72.58" y2="270.30" stroke="rgba(90,90,40,0.3)" stroke-width="0.5" />
<line x1="78.44" y1="264.30" x2="78.44" y2="270.30" stroke="rgba(90,90,40,0.3)" stroke-width="0.5" />
<rect x="55.00" y="264.30" width="29.30" height="6.00" fill="none" stroke="rgba(110,110,90,0.4)" stroke-width="0.6"/>
<rect x="88.60" y="264.30" width="5.91" height="6.05" fill="#e02c22" />
<rect x="94.46" y="264.30" width="5.91" height="6.05" fill="#eec524" />
<rect x="100.32" y="264.30" width="5.91" height="6.05" fill="#efe424" />
<rect x="106.18" y="264.30" width="5.91" height="6.05" fill="#efe424" />
<rect x="112.04" y="264.30" width="5.91" height="6.05" fill="#efe424" />
<line x1="94.46" y1="264.30" x2="94.46" y2="270.30" stroke="rgba(90,90,40,0.3)" stroke-width="0.5" />
<line x1="100.32" y1="264.30" x2="100.32" y2="270.30" stroke="rgba(90,90,40,0.3)" stroke-width="0.5" />
<line x1="106.18" y1="264.30" x2="106.18" y2="270.30" stroke="rgba(90,90,40,0.3)" stroke-width="0.5" />
<line x1="112.04" y1="264.30" x2="112.04" y2="270.30" stroke="rgba(90,90,40,0.3)" stroke-width="0.5" />
<rect x="88.60" y="264.30" width="29.30" height="6.00" fill="none" stroke="rgba(110,110,90,0.4)" stroke-width="0.6"/>
<rect x="122.70" y="264.30" width="5.91" height="6.05" fill="#eec524" />
<rect x="128.56" y="264.30" width="5.91" height="6.05" fill="#eec524" />
<rect x="134.42" y="264.30" width="5.91" height="6.05" fill="#efe424" />
<rect x="140.28" y="264.30" width="5.91" height="6.05" fill="#efe424" />
<rect x="146.14" y="264.30" width="5.91" height="6.05" fill="#efe424" />
<line x1="128.56" y1="264.30" x2="128.56" y2="270.30" stroke="rgba(90,90,40,0.3)" stroke-width="0.5" />
<line x1="134.42" y1="264.30" x2="134.42" y2="270.30" stroke="rgba(90,90,40,0.3)" stroke-width="0.5" />
<line x1="140.28" y1="264.30" x2="140.28" y2="270.30" stroke="rgba(90,90,40,0.3)" stroke-width="0.5" />
<line x1="146.14" y1="264.30" x2="146.14" y2="270.30" stroke="rgba(90,90,40,0.3)" stroke-width="0.5" />
<rect x="122.70" y="264.30" width="29.30" height="6.00" fill="none" stroke="rgba(110,110,90,0.4)" stroke-width="0.6"/>
<text x="52.70" y="269.40" font-size="6.7" font-weight="bold" text-anchor="end" fill="#111" font-style="normal" textLength="29.9" lengthAdjust="spacingAndGlyphs" stroke="#111" stroke-width="0.18">ROS-related</text>
<g transform="translate(155.3 0) scale(0.86 1)">
<text x="0.00" y="269.40" font-size="6.0" font-weight="normal" text-anchor="start" fill="#4a4a4a" font-style="italic" >hmox1</text>
</g>
<rect x="55.00" y="277.50" width="5.91" height="6.00" fill="#ee9426" />
<rect x="60.86" y="277.50" width="5.91" height="6.00" fill="#e02c22" />
<rect x="66.72" y="277.50" width="5.91" height="6.00" fill="#e02c22" />
<rect x="72.58" y="277.50" width="5.91" height="6.00" fill="#e02c22" />
<rect x="78.44" y="277.50" width="5.91" height="6.00" fill="#e02c22" />
<rect x="55.00" y="283.45" width="5.91" height="6.00" fill="#dcd43c" />
<rect x="60.86" y="283.45" width="5.91" height="6.00" fill="#efe424" />
<rect x="66.72" y="283.45" width="5.91" height="6.00" fill="#7d7fa6" />
<rect x="72.58" y="283.45" width="5.91" height="6.00" fill="#c9c34c" />
<rect x="78.44" y="283.45" width="5.91" height="6.00" fill="#dcd43c" />
<rect x="55.00" y="289.40" width="5.91" height="6.00" fill="#9c9c80" />
<rect x="60.86" y="289.40" width="5.91" height="6.00" fill="#efe424" />
<rect x="66.72" y="289.40" width="5.91" height="6.00" fill="#9c9c80" />
<rect x="72.58" y="289.40" width="5.91" height="6.00" fill="#efe424" />
<rect x="78.44" y="289.40" width="5.91" height="6.00" fill="#efe424" />
<rect x="55.00" y="295.35" width="5.91" height="6.00" fill="#efe424" />
<rect x="60.86" y="295.35" width="5.91" height="6.00" fill="#efe424" />
<rect x="66.72" y="295.35" width="5.91" height="6.00" fill="#efe424" />
<rect x="72.58" y="295.35" width="5.91" height="6.00" fill="#c9c34c" />
<rect x="78.44" y="295.35" width="5.91" height="6.00" fill="#efe424" />
<line x1="60.86" y1="277.50" x2="60.86" y2="301.30" stroke="rgba(90,90,40,0.3)" stroke-width="0.5" />
<line x1="66.72" y1="277.50" x2="66.72" y2="301.30" stroke="rgba(90,90,40,0.3)" stroke-width="0.5" />
<line x1="72.58" y1="277.50" x2="72.58" y2="301.30" stroke="rgba(90,90,40,0.3)" stroke-width="0.5" />
<line x1="78.44" y1="277.50" x2="78.44" y2="301.30" stroke="rgba(90,90,40,0.3)" stroke-width="0.5" />
<line x1="55.00" y1="283.45" x2="84.30" y2="283.45" stroke="rgba(90,90,40,0.3)" stroke-width="0.5" />
<line x1="55.00" y1="289.40" x2="84.30" y2="289.40" stroke="rgba(90,90,40,0.3)" stroke-width="0.5" />
<line x1="55.00" y1="295.35" x2="84.30" y2="295.35" stroke="rgba(90,90,40,0.3)" stroke-width="0.5" />
<rect x="55.00" y="277.50" width="29.30" height="23.80" fill="none" stroke="rgba(110,110,90,0.4)" stroke-width="0.6"/>
<rect x="88.60" y="277.50" width="5.91" height="6.00" fill="#eeaa2c" />
<rect x="94.46" y="277.50" width="5.91" height="6.00" fill="#eec524" />
<rect x="100.32" y="277.50" width="5.91" height="6.00" fill="#eec524" />
<rect x="106.18" y="277.50" width="5.91" height="6.00" fill="#efe424" />
<rect x="112.04" y="277.50" width="5.91" height="6.00" fill="#efe424" />
<rect x="88.60" y="283.45" width="5.91" height="6.00" fill="#e4ee30" />
<rect x="94.46" y="283.45" width="5.91" height="6.00" fill="#efe424" />
<rect x="100.32" y="283.45" width="5.91" height="6.00" fill="#efe424" />
<rect x="106.18" y="283.45" width="5.91" height="6.00" fill="#efe424" />
<rect x="112.04" y="283.45" width="5.91" height="6.00" fill="#efe424" />
<rect x="88.60" y="289.40" width="5.91" height="6.00" fill="#3c42a6" />
<rect x="94.46" y="289.40" width="5.91" height="6.00" fill="#c9c34c" />
<rect x="100.32" y="289.40" width="5.91" height="6.00" fill="#dcd43c" />
<rect x="106.18" y="289.40" width="5.91" height="6.00" fill="#efe424" />
<rect x="112.04" y="289.40" width="5.91" height="6.00" fill="#efe424" />
<rect x="88.60" y="295.35" width="5.91" height="6.00" fill="#efe424" />
<rect x="94.46" y="295.35" width="5.91" height="6.00" fill="#efe424" />
<rect x="100.32" y="295.35" width="5.91" height="6.00" fill="#eeaa2c" />
<rect x="106.18" y="295.35" width="5.91" height="6.00" fill="#efe424" />
<rect x="112.04" y="295.35" width="5.91" height="6.00" fill="#eeaa2c" />
<line x1="94.46" y1="277.50" x2="94.46" y2="301.30" stroke="rgba(90,90,40,0.3)" stroke-width="0.5" />
<line x1="100.32" y1="277.50" x2="100.32" y2="301.30" stroke="rgba(90,90,40,0.3)" stroke-width="0.5" />
<line x1="106.18" y1="277.50" x2="106.18" y2="301.30" stroke="rgba(90,90,40,0.3)" stroke-width="0.5" />
<line x1="112.04" y1="277.50" x2="112.04" y2="301.30" stroke="rgba(90,90,40,0.3)" stroke-width="0.5" />
<line x1="88.60" y1="283.45" x2="117.90" y2="283.45" stroke="rgba(90,90,40,0.3)" stroke-width="0.5" />
<line x1="88.60" y1="289.40" x2="117.90" y2="289.40" stroke="rgba(90,90,40,0.3)" stroke-width="0.5" />
<line x1="88.60" y1="295.35" x2="117.90" y2="295.35" stroke="rgba(90,90,40,0.3)" stroke-width="0.5" />
<rect x="88.60" y="277.50" width="29.30" height="23.80" fill="none" stroke="rgba(110,110,90,0.4)" stroke-width="0.6"/>
<rect x="122.70" y="277.50" width="5.91" height="6.00" fill="#3c42a6" />
<rect x="128.56" y="277.50" width="5.91" height="6.00" fill="#efe424" />
<rect x="134.42" y="277.50" width="5.91" height="6.00" fill="#5a5eae" />
<rect x="140.28" y="277.50" width="5.91" height="6.00" fill="#3c42a6" />
<rect x="146.14" y="277.50" width="5.91" height="6.00" fill="#efe424" />
<rect x="122.70" y="283.45" width="5.91" height="6.00" fill="#3c42a6" />
<rect x="128.56" y="283.45" width="5.91" height="6.00" fill="#efe424" />
<rect x="134.42" y="283.45" width="5.91" height="6.00" fill="#3c42a6" />
<rect x="140.28" y="283.45" width="5.91" height="6.00" fill="#3c42a6" />
<rect x="146.14" y="283.45" width="5.91" height="6.00" fill="#3c42a6" />
<rect x="122.70" y="289.40" width="5.91" height="6.00" fill="#3c42a6" />
<rect x="128.56" y="289.40" width="5.91" height="6.00" fill="#3c42a6" />
<rect x="134.42" y="289.40" width="5.91" height="6.00" fill="#3c42a6" />
<rect x="140.28" y="289.40" width="5.91" height="6.00" fill="#3c42a6" />
<rect x="146.14" y="289.40" width="5.91" height="6.00" fill="#3c42a6" />
<rect x="122.70" y="295.35" width="5.91" height="6.00" fill="#3c42a6" />
<rect x="128.56" y="295.35" width="5.91" height="6.00" fill="#3c42a6" />
<rect x="134.42" y="295.35" width="5.91" height="6.00" fill="#3c42a6" />
<rect x="140.28" y="295.35" width="5.91" height="6.00" fill="#3c42a6" />
<rect x="146.14" y="295.35" width="5.91" height="6.00" fill="#3c42a6" />
<line x1="128.56" y1="277.50" x2="128.56" y2="301.30" stroke="rgba(90,90,40,0.3)" stroke-width="0.5" />
<line x1="134.42" y1="277.50" x2="134.42" y2="301.30" stroke="rgba(90,90,40,0.3)" stroke-width="0.5" />
<line x1="140.28" y1="277.50" x2="140.28" y2="301.30" stroke="rgba(90,90,40,0.3)" stroke-width="0.5" />
<line x1="146.14" y1="277.50" x2="146.14" y2="301.30" stroke="rgba(90,90,40,0.3)" stroke-width="0.5" />
<line x1="122.70" y1="283.45" x2="152.00" y2="283.45" stroke="rgba(90,90,40,0.3)" stroke-width="0.5" />
<line x1="122.70" y1="289.40" x2="152.00" y2="289.40" stroke="rgba(90,90,40,0.3)" stroke-width="0.5" />
<line x1="122.70" y1="295.35" x2="152.00" y2="295.35" stroke="rgba(90,90,40,0.3)" stroke-width="0.5" />
<rect x="122.70" y="277.50" width="29.30" height="23.80" fill="none" stroke="rgba(110,110,90,0.4)" stroke-width="0.6"/>
<text x="52.70" y="282.30" font-size="6.7" font-weight="bold" text-anchor="end" fill="#111" font-style="normal" textLength="21.8" lengthAdjust="spacingAndGlyphs" stroke="#111" stroke-width="0.18">signaling</text>
<g transform="translate(155.3 0) scale(0.86 1)">
<text x="0.00" y="282.58" font-size="6.0" font-weight="normal" text-anchor="start" fill="#4a4a4a" font-style="italic" >edn1</text>
</g>
<g transform="translate(155.3 0) scale(0.86 1)">
<text x="0.00" y="288.53" font-size="6.0" font-weight="normal" text-anchor="start" fill="#4a4a4a" font-style="italic" >ptgs2</text>
</g>
<g transform="translate(155.3 0) scale(0.86 1)">
<text x="0.00" y="294.48" font-size="6.0" font-weight="normal" text-anchor="start" fill="#4a4a4a" font-style="italic" >smad7</text>
</g>
<g transform="translate(155.3 0) scale(0.86 1)">
<text x="0.00" y="300.43" font-size="6.0" font-weight="normal" text-anchor="start" fill="#4a4a4a" font-style="italic" >vegfa</text>
</g>
<rect x="55.00" y="306.90" width="5.91" height="5.45" fill="#efe424" />
<rect x="60.86" y="306.90" width="5.91" height="5.45" fill="#efe424" />
<rect x="66.72" y="306.90" width="5.91" height="5.45" fill="#efe424" />
<rect x="72.58" y="306.90" width="5.91" height="5.45" fill="#efe424" />
<rect x="78.44" y="306.90" width="5.91" height="5.45" fill="#efe424" />
<line x1="60.86" y1="306.90" x2="60.86" y2="312.30" stroke="rgba(90,90,40,0.3)" stroke-width="0.5" />
<line x1="66.72" y1="306.90" x2="66.72" y2="312.30" stroke="rgba(90,90,40,0.3)" stroke-width="0.5" />
<line x1="72.58" y1="306.90" x2="72.58" y2="312.30" stroke="rgba(90,90,40,0.3)" stroke-width="0.5" />
<line x1="78.44" y1="306.90" x2="78.44" y2="312.30" stroke="rgba(90,90,40,0.3)" stroke-width="0.5" />
<rect x="55.00" y="306.90" width="29.30" height="5.40" fill="none" stroke="rgba(110,110,90,0.4)" stroke-width="0.6"/>
<rect x="88.60" y="306.90" width="5.91" height="5.45" fill="#c9c34c" />
<rect x="94.46" y="306.90" width="5.91" height="5.45" fill="#7d7fa6" />
<rect x="100.32" y="306.90" width="5.91" height="5.45" fill="#efe424" />
<rect x="106.18" y="306.90" width="5.91" height="5.45" fill="#efe424" />
<rect x="112.04" y="306.90" width="5.91" height="5.45" fill="#eec524" />
<line x1="94.46" y1="306.90" x2="94.46" y2="312.30" stroke="rgba(90,90,40,0.3)" stroke-width="0.5" />
<line x1="100.32" y1="306.90" x2="100.32" y2="312.30" stroke="rgba(90,90,40,0.3)" stroke-width="0.5" />
<line x1="106.18" y1="306.90" x2="106.18" y2="312.30" stroke="rgba(90,90,40,0.3)" stroke-width="0.5" />
<line x1="112.04" y1="306.90" x2="112.04" y2="312.30" stroke="rgba(90,90,40,0.3)" stroke-width="0.5" />
<rect x="88.60" y="306.90" width="29.30" height="5.40" fill="none" stroke="rgba(110,110,90,0.4)" stroke-width="0.6"/>
<rect x="122.70" y="306.90" width="5.91" height="5.45" fill="#eeaa2c" />
<rect x="128.56" y="306.90" width="5.91" height="5.45" fill="#efe424" />
<rect x="134.42" y="306.90" width="5.91" height="5.45" fill="#e45a22" />
<rect x="140.28" y="306.90" width="5.91" height="5.45" fill="#ee9426" />
<rect x="146.14" y="306.90" width="5.91" height="5.45" fill="#e02c22" />
<line x1="128.56" y1="306.90" x2="128.56" y2="312.30" stroke="rgba(90,90,40,0.3)" stroke-width="0.5" />
<line x1="134.42" y1="306.90" x2="134.42" y2="312.30" stroke="rgba(90,90,40,0.3)" stroke-width="0.5" />
<line x1="140.28" y1="306.90" x2="140.28" y2="312.30" stroke="rgba(90,90,40,0.3)" stroke-width="0.5" />
<line x1="146.14" y1="306.90" x2="146.14" y2="312.30" stroke="rgba(90,90,40,0.3)" stroke-width="0.5" />
<rect x="122.70" y="306.90" width="29.30" height="5.40" fill="none" stroke="rgba(110,110,90,0.4)" stroke-width="0.6"/>
<text x="52.70" y="311.50" font-size="6.7" font-weight="bold" text-anchor="end" fill="#111" font-style="normal" textLength="49.7" lengthAdjust="spacingAndGlyphs" stroke="#111" stroke-width="0.18">B cell growth factor</text>
<g transform="translate(155.3 0) scale(0.86 1)">
<text x="0.00" y="311.70" font-size="6.0" font-weight="normal" text-anchor="start" fill="#4a4a4a" font-style="italic" >tnfrsf17</text>
</g>
<rect x="55.00" y="317.80" width="5.91" height="5.45" fill="#eeaa2c" />
<rect x="60.86" y="317.80" width="5.91" height="5.45" fill="#9c9c80" />
<rect x="66.72" y="317.80" width="5.91" height="5.45" fill="#e02c22" />
<rect x="72.58" y="317.80" width="5.91" height="5.45" fill="#e02c22" />
<rect x="78.44" y="317.80" width="5.91" height="5.45" fill="#e02c22" />
<line x1="60.86" y1="317.80" x2="60.86" y2="323.20" stroke="rgba(90,90,40,0.3)" stroke-width="0.5" />
<line x1="66.72" y1="317.80" x2="66.72" y2="323.20" stroke="rgba(90,90,40,0.3)" stroke-width="0.5" />
<line x1="72.58" y1="317.80" x2="72.58" y2="323.20" stroke="rgba(90,90,40,0.3)" stroke-width="0.5" />
<line x1="78.44" y1="317.80" x2="78.44" y2="323.20" stroke="rgba(90,90,40,0.3)" stroke-width="0.5" />
<rect x="55.00" y="317.80" width="29.30" height="5.40" fill="none" stroke="rgba(110,110,90,0.4)" stroke-width="0.6"/>
<rect x="88.60" y="317.80" width="5.91" height="5.45" fill="#e4ee30" />
<rect x="94.46" y="317.80" width="5.91" height="5.45" fill="#efe424" />
<rect x="100.32" y="317.80" width="5.91" height="5.45" fill="#e02c22" />
<rect x="106.18" y="317.80" width="5.91" height="5.45" fill="#e02c22" />
<rect x="112.04" y="317.80" width="5.91" height="5.45" fill="#e02c22" />
<line x1="94.46" y1="317.80" x2="94.46" y2="323.20" stroke="rgba(90,90,40,0.3)" stroke-width="0.5" />
<line x1="100.32" y1="317.80" x2="100.32" y2="323.20" stroke="rgba(90,90,40,0.3)" stroke-width="0.5" />
<line x1="106.18" y1="317.80" x2="106.18" y2="323.20" stroke="rgba(90,90,40,0.3)" stroke-width="0.5" />
<line x1="112.04" y1="317.80" x2="112.04" y2="323.20" stroke="rgba(90,90,40,0.3)" stroke-width="0.5" />
<rect x="88.60" y="317.80" width="29.30" height="5.40" fill="none" stroke="rgba(110,110,90,0.4)" stroke-width="0.6"/>
<rect x="122.70" y="317.80" width="5.91" height="5.45" fill="#c9c34c" />
<rect x="128.56" y="317.80" width="5.91" height="5.45" fill="#7d7fa6" />
<rect x="134.42" y="317.80" width="5.91" height="5.45" fill="#e02c22" />
<rect x="140.28" y="317.80" width="5.91" height="5.45" fill="#e02c22" />
<rect x="146.14" y="317.80" width="5.91" height="5.45" fill="#e02c22" />
<line x1="128.56" y1="317.80" x2="128.56" y2="323.20" stroke="rgba(90,90,40,0.3)" stroke-width="0.5" />
<line x1="134.42" y1="317.80" x2="134.42" y2="323.20" stroke="rgba(90,90,40,0.3)" stroke-width="0.5" />
<line x1="140.28" y1="317.80" x2="140.28" y2="323.20" stroke="rgba(90,90,40,0.3)" stroke-width="0.5" />
<line x1="146.14" y1="317.80" x2="146.14" y2="323.20" stroke="rgba(90,90,40,0.3)" stroke-width="0.5" />
<rect x="122.70" y="317.80" width="29.30" height="5.40" fill="none" stroke="rgba(110,110,90,0.4)" stroke-width="0.6"/>
<text x="52.70" y="322.60" font-size="6.7" font-weight="bold" text-anchor="end" fill="#111" font-style="normal" textLength="34.9" lengthAdjust="spacingAndGlyphs" stroke="#111" stroke-width="0.18">cell activation</text>
<g transform="translate(155.3 0) scale(0.86 1)">
<text x="0.00" y="322.60" font-size="6.0" font-weight="normal" text-anchor="start" fill="#4a4a4a" font-style="italic" >icos</text>
</g>
<text x="60.73" y="324.40" font-size="5.4" font-weight="bold" text-anchor="end" fill="#111" font-style="normal" textLength="9.4" lengthAdjust="spacingAndGlyphs" transform="rotate(-90 60.73 324.40)" stroke="#111" stroke-width="0.06">3 hr</text>
<text x="66.59" y="324.40" font-size="5.4" font-weight="bold" text-anchor="end" fill="#111" font-style="normal" textLength="9.4" lengthAdjust="spacingAndGlyphs" transform="rotate(-90 66.59 324.40)" stroke="#111" stroke-width="0.06">d. 1</text>
<text x="72.45" y="324.40" font-size="5.4" font-weight="bold" text-anchor="end" fill="#111" font-style="normal" textLength="9.4" lengthAdjust="spacingAndGlyphs" transform="rotate(-90 72.45 324.40)" stroke="#111" stroke-width="0.06">d. 3</text>
<text x="78.31" y="324.40" font-size="5.4" font-weight="bold" text-anchor="end" fill="#111" font-style="normal" textLength="9.4" lengthAdjust="spacingAndGlyphs" transform="rotate(-90 78.31 324.40)" stroke="#111" stroke-width="0.06">d. 6</text>
<text x="84.17" y="324.40" font-size="5.4" font-weight="bold" text-anchor="end" fill="#111" font-style="normal" textLength="13.1" lengthAdjust="spacingAndGlyphs" transform="rotate(-90 84.17 324.40)" stroke="#111" stroke-width="0.06">d. 14</text>
<text x="94.33" y="324.40" font-size="5.4" font-weight="bold" text-anchor="end" fill="#111" font-style="normal" textLength="9.4" lengthAdjust="spacingAndGlyphs" transform="rotate(-90 94.33 324.40)" stroke="#111" stroke-width="0.06">3 hr</text>
<text x="100.19" y="324.40" font-size="5.4" font-weight="bold" text-anchor="end" fill="#111" font-style="normal" textLength="9.4" lengthAdjust="spacingAndGlyphs" transform="rotate(-90 100.19 324.40)" stroke="#111" stroke-width="0.06">d. 1</text>
<text x="106.05" y="324.40" font-size="5.4" font-weight="bold" text-anchor="end" fill="#111" font-style="normal" textLength="9.4" lengthAdjust="spacingAndGlyphs" transform="rotate(-90 106.05 324.40)" stroke="#111" stroke-width="0.06">d. 3</text>
<text x="111.91" y="324.40" font-size="5.4" font-weight="bold" text-anchor="end" fill="#111" font-style="normal" textLength="9.4" lengthAdjust="spacingAndGlyphs" transform="rotate(-90 111.91 324.40)" stroke="#111" stroke-width="0.06">d. 6</text>
<text x="117.77" y="324.40" font-size="5.4" font-weight="bold" text-anchor="end" fill="#111" font-style="normal" textLength="13.1" lengthAdjust="spacingAndGlyphs" transform="rotate(-90 117.77 324.40)" stroke="#111" stroke-width="0.06">d. 14</text>
<text x="128.43" y="324.40" font-size="5.4" font-weight="bold" text-anchor="end" fill="#111" font-style="normal" textLength="9.4" lengthAdjust="spacingAndGlyphs" transform="rotate(-90 128.43 324.40)" stroke="#111" stroke-width="0.06">3 hr</text>
<text x="134.29" y="324.40" font-size="5.4" font-weight="bold" text-anchor="end" fill="#111" font-style="normal" textLength="9.4" lengthAdjust="spacingAndGlyphs" transform="rotate(-90 134.29 324.40)" stroke="#111" stroke-width="0.06">d. 1</text>
<text x="140.15" y="324.40" font-size="5.4" font-weight="bold" text-anchor="end" fill="#111" font-style="normal" textLength="9.4" lengthAdjust="spacingAndGlyphs" transform="rotate(-90 140.15 324.40)" stroke="#111" stroke-width="0.06">d. 3</text>
<text x="146.01" y="324.40" font-size="5.4" font-weight="bold" text-anchor="end" fill="#111" font-style="normal" textLength="9.4" lengthAdjust="spacingAndGlyphs" transform="rotate(-90 146.01 324.40)" stroke="#111" stroke-width="0.06">d. 6</text>
<text x="151.87" y="324.40" font-size="5.4" font-weight="bold" text-anchor="end" fill="#111" font-style="normal" textLength="13.1" lengthAdjust="spacingAndGlyphs" transform="rotate(-90 151.87 324.40)" stroke="#111" stroke-width="0.06">d. 14</text>
<defs><linearGradient id="cb" x1="0" x2="1" y1="0" y2="0"><stop offset="0" stop-color="#1c1c6c"/><stop offset="0.2" stop-color="#3a3a82"/><stop offset="0.35" stop-color="#9a9070"/><stop offset="0.5" stop-color="#f8f000"/><stop offset="0.68" stop-color="#f0a020"/><stop offset="0.85" stop-color="#d04020"/><stop offset="1" stop-color="#9a1818"/></linearGradient></defs>
<rect x="90.00" y="348.80" width="33.40" height="3.20" fill="url(#cb)" />
<text x="90.00" y="347.50" font-size="5.2" font-weight="bold" text-anchor="start" fill="#222" font-style="normal" textLength="12.0" lengthAdjust="spacingAndGlyphs" >0.125</text>
<text x="107.60" y="347.50" font-size="5.2" font-weight="bold" text-anchor="middle" fill="#222" font-style="normal" >1</text>
<text x="122.40" y="347.50" font-size="5.2" font-weight="bold" text-anchor="middle" fill="#222" font-style="normal" >8</text>
<text x="107.00" y="358.60" font-size="5.6" font-weight="bold" text-anchor="middle" fill="#333" font-style="normal" textLength="27.0" lengthAdjust="spacingAndGlyphs" stroke="#333" stroke-width="0.12">fold-change</text>
<text x="107.00" y="364.00" font-size="5.6" font-weight="bold" text-anchor="middle" fill="#333" font-style="normal" textLength="45.5" lengthAdjust="spacingAndGlyphs" stroke="#333" stroke-width="0.12">(relative to baseline)</text>
<line x1="238.30" y1="3.50" x2="238.30" y2="77.50" stroke="#9a9a9a" stroke-width="0.6" />
<line x1="263.80" y1="3.50" x2="263.80" y2="77.50" stroke="#9a9a9a" stroke-width="0.6" />
<line x1="289.20" y1="3.50" x2="289.20" y2="77.50" stroke="#9a9a9a" stroke-width="0.6" />
<line x1="314.70" y1="3.50" x2="314.70" y2="77.50" stroke="#9a9a9a" stroke-width="0.6" />
<line x1="212.70" y1="70.90" x2="339.30" y2="70.90" stroke="#8a8a8a" stroke-width="0.6" />
<line x1="212.70" y1="8.50" x2="212.70" y2="19.50" stroke="#8a8a8a" stroke-width="0.6" stroke-dasharray="0.7 0.7"/>
<line x1="212.70" y1="23.50" x2="212.70" y2="68.70" stroke="#8a8a8a" stroke-width="0.6" stroke-dasharray="0.7 0.7"/>
<line x1="211.30" y1="8.90" x2="212.70" y2="8.90" stroke="#555" stroke-width="0.5" />
<text x="210.80" y="10.80" font-size="5.2" font-weight="bold" text-anchor="end" fill="#111" font-style="normal" stroke="#111" stroke-width="0.1">400</text>
<line x1="211.30" y1="16.30" x2="212.70" y2="16.30" stroke="#555" stroke-width="0.5" />
<text x="210.80" y="18.20" font-size="5.2" font-weight="bold" text-anchor="end" fill="#111" font-style="normal" stroke="#111" stroke-width="0.1">300</text>
<line x1="211.30" y1="24.80" x2="212.70" y2="24.80" stroke="#555" stroke-width="0.5" />
<text x="210.80" y="26.70" font-size="5.2" font-weight="bold" text-anchor="end" fill="#111" font-style="normal" stroke="#111" stroke-width="0.1">100</text>
<line x1="211.30" y1="33.58" x2="212.70" y2="33.58" stroke="#555" stroke-width="0.5" />
<text x="210.80" y="35.48" font-size="5.2" font-weight="bold" text-anchor="end" fill="#111" font-style="normal" stroke="#111" stroke-width="0.1">80</text>
<line x1="211.30" y1="42.36" x2="212.70" y2="42.36" stroke="#555" stroke-width="0.5" />
<text x="210.80" y="44.26" font-size="5.2" font-weight="bold" text-anchor="end" fill="#111" font-style="normal" stroke="#111" stroke-width="0.1">60</text>
<line x1="211.30" y1="51.14" x2="212.70" y2="51.14" stroke="#555" stroke-width="0.5" />
<text x="210.80" y="53.04" font-size="5.2" font-weight="bold" text-anchor="end" fill="#111" font-style="normal" stroke="#111" stroke-width="0.1">40</text>
<line x1="211.30" y1="59.92" x2="212.70" y2="59.92" stroke="#555" stroke-width="0.5" />
<text x="210.80" y="61.82" font-size="5.2" font-weight="bold" text-anchor="end" fill="#111" font-style="normal" stroke="#111" stroke-width="0.1">20</text>
<line x1="211.30" y1="68.70" x2="212.70" y2="68.70" stroke="#555" stroke-width="0.5" />
<text x="210.80" y="70.60" font-size="5.2" font-weight="bold" text-anchor="end" fill="#111" font-style="normal" stroke="#111" stroke-width="0.1">0</text>
<text x="277.00" y="8.20" font-size="6.4" font-weight="bold" text-anchor="middle" fill="#000" font-style="italic" textLength="18.4" lengthAdjust="spacingAndGlyphs" stroke="#000" stroke-width="0.15">Isg-15</text>
<rect x="216.30" y="67.80" width="6.30" height="0.90" fill="#050505" />
<rect x="222.85" y="24.55" width="5.60" height="43.90" fill="#0202f0" stroke="#0000a8" stroke-width="0.5"/>
<rect x="222.85" y="16.05" width="5.60" height="2.30" fill="#0202f0" stroke="#0000a8" stroke-width="0.5"/>
<line x1="225.65" y1="15.80" x2="225.65" y2="8.40" stroke="#6a6ae8" stroke-width="0.5" />
<line x1="224.45" y1="8.40" x2="226.85" y2="8.40" stroke="#6a6ae8" stroke-width="0.5" />
<rect x="228.95" y="37.95" width="5.80" height="30.50" fill="#f5101e" stroke="#b80a14" stroke-width="0.5"/>
<line x1="231.85" y1="37.70" x2="231.85" y2="24.00" stroke="#f07070" stroke-width="0.5" />
<line x1="230.65" y1="24.00" x2="233.05" y2="24.00" stroke="#f07070" stroke-width="0.5" />
<rect x="241.90" y="67.90" width="6.30" height="0.80" fill="#050505" />
<rect x="248.45" y="49.05" width="5.60" height="19.40" fill="#0202f0" stroke="#0000a8" stroke-width="0.5"/>
<line x1="251.25" y1="48.80" x2="251.25" y2="42.30" stroke="#6a6ae8" stroke-width="0.5" />
<line x1="250.05" y1="42.30" x2="252.45" y2="42.30" stroke="#6a6ae8" stroke-width="0.5" />
<rect x="254.55" y="46.65" width="5.80" height="21.80" fill="#f5101e" stroke="#b80a14" stroke-width="0.5"/>
<line x1="257.45" y1="46.40" x2="257.45" y2="39.90" stroke="#f07070" stroke-width="0.5" />
<line x1="256.25" y1="39.90" x2="258.65" y2="39.90" stroke="#f07070" stroke-width="0.5" />
<rect x="267.40" y="67.90" width="6.30" height="0.80" fill="#050505" />
<rect x="273.95" y="67.15" width="5.60" height="1.30" fill="#0202f0" stroke="#0000a8" stroke-width="0.5"/>
<rect x="280.05" y="61.95" width="5.80" height="6.50" fill="#f5101e" stroke="#b80a14" stroke-width="0.5"/>
<line x1="282.95" y1="61.70" x2="282.95" y2="59.60" stroke="#f07070" stroke-width="0.5" />
<line x1="281.75" y1="59.60" x2="284.15" y2="59.60" stroke="#f07070" stroke-width="0.5" />
<rect x="292.80" y="67.90" width="6.30" height="0.80" fill="#050505" />
<rect x="299.10" y="67.90" width="6.10" height="0.80" fill="#0202f0" />
<rect x="305.45" y="66.45" width="5.80" height="2.00" fill="#f5101e" stroke="#b80a14" stroke-width="0.5"/>
<line x1="308.35" y1="66.20" x2="308.35" y2="64.60" stroke="#f07070" stroke-width="0.5" />
<line x1="307.15" y1="64.60" x2="309.55" y2="64.60" stroke="#f07070" stroke-width="0.5" />
<rect x="318.55" y="67.65" width="5.80" height="0.80" fill="#050505" stroke="#000" stroke-width="0.5"/>
<rect x="324.60" y="67.80" width="6.10" height="0.90" fill="#0202f0" />
<rect x="330.70" y="68.00" width="6.30" height="0.70" fill="#f5101e" />
<line x1="211.20" y1="68.70" x2="339.30" y2="68.70" stroke="#333" stroke-width="0.7" />
<line x1="212.70" y1="68.70" x2="212.70" y2="70.90" stroke="#888" stroke-width="0.6" />
<polyline points="269.70,56.50 269.70,55.30 279.20,55.30 279.20,56.50" fill="none" stroke="#888" stroke-width="0.45"/>
<text x="274.45" y="54.90" font-size="3.2" font-weight="bold" text-anchor="middle" fill="#777" font-style="normal" >**</text>
<polyline points="278.20,58.00 278.20,56.80 282.60,56.80 282.60,58.00" fill="none" stroke="#888" stroke-width="0.45"/>
<text x="280.40" y="56.40" font-size="3.2" font-weight="bold" text-anchor="middle" fill="#777" font-style="normal" >**</text>
<polyline points="296.00,60.80 296.00,59.60 307.60,59.60 307.60,60.80" fill="none" stroke="#888" stroke-width="0.45"/>
<text x="301.80" y="59.20" font-size="3.2" font-weight="bold" text-anchor="middle" fill="#777" font-style="normal" >**</text>
<polyline points="303.00,62.40 303.00,61.20 308.30,61.20 308.30,62.40" fill="none" stroke="#888" stroke-width="0.45"/>
<text x="305.65" y="60.80" font-size="3.2" font-weight="bold" text-anchor="middle" fill="#777" font-style="normal" >**</text>
<text x="225.50" y="77.00" font-size="5.1" font-weight="bold" text-anchor="middle" fill="#111" font-style="normal" >3 hr</text>
<text x="251.05" y="77.00" font-size="5.1" font-weight="bold" text-anchor="middle" fill="#111" font-style="normal" >d. 1</text>
<text x="276.50" y="77.00" font-size="5.1" font-weight="bold" text-anchor="middle" fill="#111" font-style="normal" >d. 3</text>
<text x="301.95" y="77.00" font-size="5.1" font-weight="bold" text-anchor="middle" fill="#111" font-style="normal" >d. 6</text>
<text x="327.00" y="77.00" font-size="5.1" font-weight="bold" text-anchor="middle" fill="#111" font-style="normal" >d. 14</text>
<text x="200.20" y="38.90" font-size="4.6" font-weight="bold" text-anchor="middle" fill="#222" font-style="normal" textLength="32.6" lengthAdjust="spacingAndGlyphs" transform="rotate(-90 200.20 38.90)" >relative change</text>
<line x1="238.30" y1="83.50" x2="238.30" y2="157.50" stroke="#9a9a9a" stroke-width="0.6" />
<line x1="263.80" y1="83.50" x2="263.80" y2="157.50" stroke="#9a9a9a" stroke-width="0.6" />
<line x1="289.20" y1="83.50" x2="289.20" y2="157.50" stroke="#9a9a9a" stroke-width="0.6" />
<line x1="314.70" y1="83.50" x2="314.70" y2="157.50" stroke="#9a9a9a" stroke-width="0.6" />
<line x1="212.70" y1="149.10" x2="339.30" y2="149.10" stroke="#8a8a8a" stroke-width="0.6" />
<line x1="212.70" y1="86.00" x2="212.70" y2="103.50" stroke="#8a8a8a" stroke-width="0.6" stroke-dasharray="0.7 0.7"/>
<line x1="212.70" y1="106.50" x2="212.70" y2="145.00" stroke="#8a8a8a" stroke-width="0.6" stroke-dasharray="0.7 0.7"/>
<line x1="211.30" y1="86.25" x2="212.70" y2="86.25" stroke="#555" stroke-width="0.5" />
<text x="210.80" y="88.15" font-size="5.2" font-weight="bold" text-anchor="end" fill="#111" font-style="normal" stroke="#111" stroke-width="0.1">300</text>
<line x1="211.30" y1="91.00" x2="212.70" y2="91.00" stroke="#555" stroke-width="0.5" />
<text x="210.80" y="92.90" font-size="5.2" font-weight="bold" text-anchor="end" fill="#111" font-style="normal" stroke="#111" stroke-width="0.1">250</text>
<line x1="211.30" y1="95.90" x2="212.70" y2="95.90" stroke="#555" stroke-width="0.5" />
<text x="210.80" y="97.80" font-size="5.2" font-weight="bold" text-anchor="end" fill="#111" font-style="normal" stroke="#111" stroke-width="0.1">200</text>
<line x1="211.30" y1="101.00" x2="212.70" y2="101.00" stroke="#555" stroke-width="0.5" />
<text x="210.80" y="102.90" font-size="5.2" font-weight="bold" text-anchor="end" fill="#111" font-style="normal" stroke="#111" stroke-width="0.1">150</text>
<line x1="211.30" y1="109.40" x2="212.70" y2="109.40" stroke="#555" stroke-width="0.5" />
<text x="210.80" y="111.30" font-size="5.2" font-weight="bold" text-anchor="end" fill="#111" font-style="normal" stroke="#111" stroke-width="0.1">80</text>
<line x1="211.30" y1="118.30" x2="212.70" y2="118.30" stroke="#555" stroke-width="0.5" />
<text x="210.80" y="120.20" font-size="5.2" font-weight="bold" text-anchor="end" fill="#111" font-style="normal" stroke="#111" stroke-width="0.1">60</text>
<line x1="211.30" y1="127.20" x2="212.70" y2="127.20" stroke="#555" stroke-width="0.5" />
<text x="210.80" y="129.10" font-size="5.2" font-weight="bold" text-anchor="end" fill="#111" font-style="normal" stroke="#111" stroke-width="0.1">40</text>
<line x1="211.30" y1="136.10" x2="212.70" y2="136.10" stroke="#555" stroke-width="0.5" />
<text x="210.80" y="138.00" font-size="5.2" font-weight="bold" text-anchor="end" fill="#111" font-style="normal" stroke="#111" stroke-width="0.1">20</text>
<line x1="211.30" y1="145.00" x2="212.70" y2="145.00" stroke="#555" stroke-width="0.5" />
<text x="210.80" y="146.90" font-size="5.2" font-weight="bold" text-anchor="end" fill="#111" font-style="normal" stroke="#111" stroke-width="0.1">0</text>
<text x="276.00" y="89.70" font-size="6.4" font-weight="bold" text-anchor="middle" fill="#000" font-style="italic" textLength="12.5" lengthAdjust="spacingAndGlyphs" stroke="#000" stroke-width="0.15">Ifit-1</text>
<rect x="216.30" y="144.30" width="6.30" height="0.70" fill="#050505" />
<rect x="222.85" y="109.45" width="5.60" height="35.30" fill="#0202f0" stroke="#0000a8" stroke-width="0.5"/>
<rect x="222.85" y="98.05" width="5.60" height="4.70" fill="#0202f0" stroke="#0000a8" stroke-width="0.5"/>
<line x1="225.65" y1="97.80" x2="225.65" y2="86.70" stroke="#6a6ae8" stroke-width="0.5" />
<line x1="224.45" y1="86.70" x2="226.85" y2="86.70" stroke="#6a6ae8" stroke-width="0.5" />
<rect x="228.95" y="111.05" width="5.80" height="33.70" fill="#f5101e" stroke="#b80a14" stroke-width="0.5"/>
<rect x="241.90" y="144.40" width="6.30" height="0.60" fill="#050505" />
<rect x="248.45" y="122.35" width="5.60" height="22.40" fill="#0202f0" stroke="#0000a8" stroke-width="0.5"/>
<line x1="251.25" y1="122.10" x2="251.25" y2="112.00" stroke="#6a6ae8" stroke-width="0.5" />
<line x1="250.05" y1="112.00" x2="252.45" y2="112.00" stroke="#6a6ae8" stroke-width="0.5" />
<rect x="254.55" y="109.35" width="5.80" height="35.40" fill="#f5101e" stroke="#b80a14" stroke-width="0.5"/>
<rect x="254.30" y="102.90" width="6.30" height="1.10" fill="#f5101e" />
<line x1="257.45" y1="102.90" x2="257.45" y2="93.80" stroke="#f07070" stroke-width="0.5" />
<line x1="256.25" y1="93.80" x2="258.65" y2="93.80" stroke="#f07070" stroke-width="0.5" />
<rect x="267.40" y="144.40" width="6.30" height="0.60" fill="#050505" />
<rect x="273.95" y="142.45" width="5.60" height="2.30" fill="#0202f0" stroke="#0000a8" stroke-width="0.5"/>
<rect x="280.05" y="129.05" width="5.80" height="15.70" fill="#f5101e" stroke="#b80a14" stroke-width="0.5"/>
<line x1="282.95" y1="128.80" x2="282.95" y2="126.80" stroke="#f07070" stroke-width="0.5" />
<line x1="281.75" y1="126.80" x2="284.15" y2="126.80" stroke="#f07070" stroke-width="0.5" />
<rect x="292.80" y="144.30" width="6.30" height="0.70" fill="#050505" />
<rect x="299.10" y="144.30" width="6.10" height="0.70" fill="#0202f0" />
<rect x="305.45" y="133.55" width="5.80" height="11.20" fill="#f5101e" stroke="#b80a14" stroke-width="0.5"/>
<line x1="308.35" y1="133.30" x2="308.35" y2="127.80" stroke="#f07070" stroke-width="0.5" />
<line x1="307.15" y1="127.80" x2="309.55" y2="127.80" stroke="#f07070" stroke-width="0.5" />
<rect x="318.55" y="142.45" width="5.80" height="2.30" fill="#050505" stroke="#000" stroke-width="0.5"/>
<line x1="321.45" y1="142.20" x2="321.45" y2="140.60" stroke="#555" stroke-width="0.5" />
<line x1="320.25" y1="140.60" x2="322.65" y2="140.60" stroke="#555" stroke-width="0.5" />
<rect x="324.60" y="143.80" width="6.10" height="1.20" fill="#0202f0" />
<rect x="330.70" y="144.20" width="6.30" height="0.80" fill="#f5101e" />
<line x1="211.20" y1="145.00" x2="339.30" y2="145.00" stroke="#333" stroke-width="0.7" />
<line x1="212.70" y1="145.00" x2="212.70" y2="149.10" stroke="#888" stroke-width="0.6" />
<polyline points="270.00,122.20 270.00,121.00 280.00,121.00 280.00,122.20" fill="none" stroke="#888" stroke-width="0.45"/>
<text x="275.00" y="120.60" font-size="3.2" font-weight="bold" text-anchor="middle" fill="#777" font-style="normal" >**</text>
<polyline points="278.50,124.90 278.50,123.70 283.00,123.70 283.00,124.90" fill="none" stroke="#888" stroke-width="0.45"/>
<text x="280.75" y="123.30" font-size="3.2" font-weight="bold" text-anchor="middle" fill="#777" font-style="normal" >**</text>
<text x="225.50" y="156.60" font-size="5.1" font-weight="bold" text-anchor="middle" fill="#111" font-style="normal" >3 hr</text>
<text x="251.05" y="156.60" font-size="5.1" font-weight="bold" text-anchor="middle" fill="#111" font-style="normal" >d. 1</text>
<text x="276.50" y="156.60" font-size="5.1" font-weight="bold" text-anchor="middle" fill="#111" font-style="normal" >d. 3</text>
<text x="301.95" y="156.60" font-size="5.1" font-weight="bold" text-anchor="middle" fill="#111" font-style="normal" >d. 6</text>
<text x="327.00" y="156.60" font-size="5.1" font-weight="bold" text-anchor="middle" fill="#111" font-style="normal" >d. 14</text>
<text x="200.00" y="117.60" font-size="4.6" font-weight="bold" text-anchor="middle" fill="#222" font-style="normal" textLength="32.6" lengthAdjust="spacingAndGlyphs" transform="rotate(-90 200.00 117.60)" >relative change</text>
<line x1="238.30" y1="160.50" x2="238.30" y2="236.50" stroke="#9a9a9a" stroke-width="0.6" />
<line x1="263.80" y1="160.50" x2="263.80" y2="236.50" stroke="#9a9a9a" stroke-width="0.6" />
<line x1="289.20" y1="160.50" x2="289.20" y2="236.50" stroke="#9a9a9a" stroke-width="0.6" />
<line x1="314.70" y1="160.50" x2="314.70" y2="236.50" stroke="#9a9a9a" stroke-width="0.6" />
<line x1="212.70" y1="228.30" x2="339.30" y2="228.30" stroke="#8a8a8a" stroke-width="0.6" />
<line x1="212.70" y1="165.00" x2="212.70" y2="228.30" stroke="#8a8a8a" stroke-width="0.6" stroke-dasharray="0.7 0.7"/>
<line x1="211.30" y1="165.39" x2="212.70" y2="165.39" stroke="#555" stroke-width="0.5" />
<text x="210.80" y="167.29" font-size="5.2" font-weight="bold" text-anchor="end" fill="#111" font-style="normal" stroke="#111" stroke-width="0.1">45</text>
<line x1="211.30" y1="171.68" x2="212.70" y2="171.68" stroke="#555" stroke-width="0.5" />
<text x="210.80" y="173.58" font-size="5.2" font-weight="bold" text-anchor="end" fill="#111" font-style="normal" stroke="#111" stroke-width="0.1">40</text>
<line x1="211.30" y1="177.97" x2="212.70" y2="177.97" stroke="#555" stroke-width="0.5" />
<text x="210.80" y="179.87" font-size="5.2" font-weight="bold" text-anchor="end" fill="#111" font-style="normal" stroke="#111" stroke-width="0.1">35</text>
<line x1="211.30" y1="184.26" x2="212.70" y2="184.26" stroke="#555" stroke-width="0.5" />
<text x="210.80" y="186.16" font-size="5.2" font-weight="bold" text-anchor="end" fill="#111" font-style="normal" stroke="#111" stroke-width="0.1">30</text>
<line x1="211.30" y1="190.55" x2="212.70" y2="190.55" stroke="#555" stroke-width="0.5" />
<text x="210.80" y="192.45" font-size="5.2" font-weight="bold" text-anchor="end" fill="#111" font-style="normal" stroke="#111" stroke-width="0.1">25</text>
<line x1="211.30" y1="196.84" x2="212.70" y2="196.84" stroke="#555" stroke-width="0.5" />
<text x="210.80" y="198.74" font-size="5.2" font-weight="bold" text-anchor="end" fill="#111" font-style="normal" stroke="#111" stroke-width="0.1">20</text>
<line x1="211.30" y1="203.13" x2="212.70" y2="203.13" stroke="#555" stroke-width="0.5" />
<text x="210.80" y="205.03" font-size="5.2" font-weight="bold" text-anchor="end" fill="#111" font-style="normal" stroke="#111" stroke-width="0.1">15</text>
<line x1="211.30" y1="209.42" x2="212.70" y2="209.42" stroke="#555" stroke-width="0.5" />
<text x="210.80" y="211.32" font-size="5.2" font-weight="bold" text-anchor="end" fill="#111" font-style="normal" stroke="#111" stroke-width="0.1">10</text>
<line x1="211.30" y1="215.71" x2="212.70" y2="215.71" stroke="#555" stroke-width="0.5" />
<text x="210.80" y="217.61" font-size="5.2" font-weight="bold" text-anchor="end" fill="#111" font-style="normal" stroke="#111" stroke-width="0.1">5</text>
<line x1="211.30" y1="222.00" x2="212.70" y2="222.00" stroke="#555" stroke-width="0.5" />
<text x="210.80" y="223.90" font-size="5.2" font-weight="bold" text-anchor="end" fill="#111" font-style="normal" stroke="#111" stroke-width="0.1">0</text>
<line x1="211.30" y1="228.29" x2="212.70" y2="228.29" stroke="#555" stroke-width="0.5" />
<text x="210.80" y="230.19" font-size="5.2" font-weight="bold" text-anchor="end" fill="#111" font-style="normal" stroke="#111" stroke-width="0.1">-5</text>
<text x="275.70" y="167.50" font-size="6.4" font-weight="bold" text-anchor="middle" fill="#000" font-style="italic" textLength="12.8" lengthAdjust="spacingAndGlyphs" stroke="#000" stroke-width="0.15">Mx-1</text>
<rect x="216.30" y="221.70" width="6.30" height="0.30" fill="#050505" />
<rect x="222.85" y="188.35" width="5.60" height="33.40" fill="#0202f0" stroke="#0000a8" stroke-width="0.5"/>
<line x1="225.65" y1="188.10" x2="225.65" y2="185.00" stroke="#6a6ae8" stroke-width="0.5" />
<line x1="224.45" y1="185.00" x2="226.85" y2="185.00" stroke="#6a6ae8" stroke-width="0.5" />
<rect x="228.95" y="187.35" width="5.80" height="34.40" fill="#f5101e" stroke="#b80a14" stroke-width="0.5"/>
<line x1="231.85" y1="187.10" x2="231.85" y2="168.20" stroke="#f07070" stroke-width="0.5" />
<line x1="230.65" y1="168.20" x2="233.05" y2="168.20" stroke="#f07070" stroke-width="0.5" />
<rect x="242.15" y="222.25" width="5.80" height="1.50" fill="#050505" stroke="#000" stroke-width="0.5"/>
<line x1="245.05" y1="224.00" x2="245.05" y2="225.20" stroke="#555" stroke-width="0.5" />
<line x1="243.85" y1="225.20" x2="246.25" y2="225.20" stroke="#555" stroke-width="0.5" />
<rect x="248.45" y="214.15" width="5.60" height="7.60" fill="#0202f0" stroke="#0000a8" stroke-width="0.5"/>
<rect x="254.55" y="196.25" width="5.80" height="25.50" fill="#f5101e" stroke="#b80a14" stroke-width="0.5"/>
<line x1="257.45" y1="196.00" x2="257.45" y2="193.80" stroke="#f07070" stroke-width="0.5" />
<line x1="256.25" y1="193.80" x2="258.65" y2="193.80" stroke="#f07070" stroke-width="0.5" />
<rect x="267.65" y="222.25" width="5.80" height="1.30" fill="#050505" stroke="#000" stroke-width="0.5"/>
<rect x="273.95" y="219.45" width="5.60" height="2.30" fill="#0202f0" stroke="#0000a8" stroke-width="0.5"/>
<rect x="280.05" y="204.65" width="5.80" height="17.10" fill="#f5101e" stroke="#b80a14" stroke-width="0.5"/>
<line x1="282.95" y1="204.40" x2="282.95" y2="200.00" stroke="#f07070" stroke-width="0.5" />
<line x1="281.75" y1="200.00" x2="284.15" y2="200.00" stroke="#f07070" stroke-width="0.5" />
<rect x="293.05" y="222.25" width="5.80" height="1.10" fill="#050505" stroke="#000" stroke-width="0.5"/>
<rect x="299.10" y="221.90" width="6.10" height="0.10" fill="#0202f0" />
<rect x="305.45" y="216.25" width="5.80" height="5.50" fill="#f5101e" stroke="#b80a14" stroke-width="0.5"/>
<line x1="308.35" y1="216.00" x2="308.35" y2="214.60" stroke="#f07070" stroke-width="0.5" />
<line x1="307.15" y1="214.60" x2="309.55" y2="214.60" stroke="#f07070" stroke-width="0.5" />
<rect x="318.30" y="222.00" width="6.30" height="0.00" fill="#050505" />
<rect x="324.60" y="222.00" width="6.10" height="0.00" fill="#0202f0" />
<rect x="330.70" y="221.60" width="6.30" height="0.40" fill="#f5101e" />
<line x1="211.20" y1="222.00" x2="339.30" y2="222.00" stroke="#333" stroke-width="0.7" />
<line x1="212.70" y1="222.00" x2="212.70" y2="228.30" stroke="#888" stroke-width="0.6" />
<polyline points="244.50,189.70 244.50,188.50 257.50,188.50 257.50,189.70" fill="none" stroke="#888" stroke-width="0.45"/>
<text x="251.00" y="188.10" font-size="3.2" font-weight="bold" text-anchor="middle" fill="#777" font-style="normal" >**</text>
<polyline points="251.50,192.80 251.50,191.60 257.50,191.60 257.50,192.80" fill="none" stroke="#888" stroke-width="0.45"/>
<text x="254.50" y="191.20" font-size="3.2" font-weight="bold" text-anchor="middle" fill="#777" font-style="normal" >**</text>
<polyline points="243.00,211.10 243.00,209.90 250.50,209.90 250.50,211.10" fill="none" stroke="#888" stroke-width="0.45"/>
<text x="246.75" y="209.50" font-size="3.2" font-weight="bold" text-anchor="middle" fill="#777" font-style="normal" >**</text>
<polyline points="270.00,195.20 270.00,194.00 279.50,194.00 279.50,195.20" fill="none" stroke="#888" stroke-width="0.45"/>
<text x="274.75" y="193.60" font-size="3.2" font-weight="bold" text-anchor="middle" fill="#777" font-style="normal" >**</text>
<polyline points="278.00,197.80 278.00,196.60 283.00,196.60 283.00,197.80" fill="none" stroke="#888" stroke-width="0.45"/>
<text x="280.50" y="196.20" font-size="3.2" font-weight="bold" text-anchor="middle" fill="#777" font-style="normal" >**</text>
<polyline points="295.50,211.10 295.50,209.90 305.50,209.90 305.50,211.10" fill="none" stroke="#888" stroke-width="0.45"/>
<text x="300.50" y="209.50" font-size="3.2" font-weight="bold" text-anchor="middle" fill="#777" font-style="normal" >**</text>
<polyline points="302.00,213.70 302.00,212.50 308.00,212.50 308.00,213.70" fill="none" stroke="#888" stroke-width="0.45"/>
<text x="305.00" y="212.10" font-size="3.2" font-weight="bold" text-anchor="middle" fill="#777" font-style="normal" >**</text>
<text x="225.50" y="234.80" font-size="5.1" font-weight="bold" text-anchor="middle" fill="#111" font-style="normal" >3 hr</text>
<text x="251.05" y="234.80" font-size="5.1" font-weight="bold" text-anchor="middle" fill="#111" font-style="normal" >d. 1</text>
<text x="276.50" y="234.80" font-size="5.1" font-weight="bold" text-anchor="middle" fill="#111" font-style="normal" >d. 3</text>
<text x="301.95" y="234.80" font-size="5.1" font-weight="bold" text-anchor="middle" fill="#111" font-style="normal" >d. 6</text>
<text x="327.00" y="234.80" font-size="5.1" font-weight="bold" text-anchor="middle" fill="#111" font-style="normal" >d. 14</text>
<text x="201.70" y="196.00" font-size="4.6" font-weight="bold" text-anchor="middle" fill="#222" font-style="normal" textLength="32.6" lengthAdjust="spacingAndGlyphs" transform="rotate(-90 201.70 196.00)" >relative change</text>
<line x1="238.30" y1="237.50" x2="238.30" y2="314.00" stroke="#9a9a9a" stroke-width="0.6" />
<line x1="263.80" y1="237.50" x2="263.80" y2="314.00" stroke="#9a9a9a" stroke-width="0.6" />
<line x1="289.20" y1="237.50" x2="289.20" y2="314.00" stroke="#9a9a9a" stroke-width="0.6" />
<line x1="314.70" y1="237.50" x2="314.70" y2="314.00" stroke="#9a9a9a" stroke-width="0.6" />
<line x1="212.70" y1="306.00" x2="339.30" y2="306.00" stroke="#8a8a8a" stroke-width="0.6" />
<line x1="212.70" y1="246.00" x2="212.70" y2="306.00" stroke="#8a8a8a" stroke-width="0.6" stroke-dasharray="0.7 0.7"/>
<line x1="211.30" y1="248.38" x2="212.70" y2="248.38" stroke="#555" stroke-width="0.5" />
<text x="210.80" y="250.28" font-size="5.2" font-weight="bold" text-anchor="end" fill="#111" font-style="normal" stroke="#111" stroke-width="0.1">80</text>
<line x1="211.30" y1="255.12" x2="212.70" y2="255.12" stroke="#555" stroke-width="0.5" />
<text x="210.80" y="257.02" font-size="5.2" font-weight="bold" text-anchor="end" fill="#111" font-style="normal" stroke="#111" stroke-width="0.1">70</text>
<line x1="211.30" y1="261.86" x2="212.70" y2="261.86" stroke="#555" stroke-width="0.5" />
<text x="210.80" y="263.76" font-size="5.2" font-weight="bold" text-anchor="end" fill="#111" font-style="normal" stroke="#111" stroke-width="0.1">60</text>
<line x1="211.30" y1="268.60" x2="212.70" y2="268.60" stroke="#555" stroke-width="0.5" />
<text x="210.80" y="270.50" font-size="5.2" font-weight="bold" text-anchor="end" fill="#111" font-style="normal" stroke="#111" stroke-width="0.1">50</text>
<line x1="211.30" y1="275.34" x2="212.70" y2="275.34" stroke="#555" stroke-width="0.5" />
<text x="210.80" y="277.24" font-size="5.2" font-weight="bold" text-anchor="end" fill="#111" font-style="normal" stroke="#111" stroke-width="0.1">40</text>
<line x1="211.30" y1="282.08" x2="212.70" y2="282.08" stroke="#555" stroke-width="0.5" />
<text x="210.80" y="283.98" font-size="5.2" font-weight="bold" text-anchor="end" fill="#111" font-style="normal" stroke="#111" stroke-width="0.1">30</text>
<line x1="211.30" y1="288.82" x2="212.70" y2="288.82" stroke="#555" stroke-width="0.5" />
<text x="210.80" y="290.72" font-size="5.2" font-weight="bold" text-anchor="end" fill="#111" font-style="normal" stroke="#111" stroke-width="0.1">20</text>
<line x1="211.30" y1="295.56" x2="212.70" y2="295.56" stroke="#555" stroke-width="0.5" />
<text x="210.80" y="297.46" font-size="5.2" font-weight="bold" text-anchor="end" fill="#111" font-style="normal" stroke="#111" stroke-width="0.1">10</text>
<line x1="211.30" y1="302.30" x2="212.70" y2="302.30" stroke="#555" stroke-width="0.5" />
<text x="210.80" y="304.20" font-size="5.2" font-weight="bold" text-anchor="end" fill="#111" font-style="normal" stroke="#111" stroke-width="0.1">0</text>
<text x="276.70" y="245.20" font-size="6.4" font-weight="bold" text-anchor="middle" fill="#000" font-style="italic" textLength="16.8" lengthAdjust="spacingAndGlyphs" stroke="#000" stroke-width="0.15">Oas-1</text>
<rect x="216.55" y="302.55" width="5.80" height="1.20" fill="#050505" stroke="#000" stroke-width="0.5"/>
<rect x="222.85" y="259.25" width="5.60" height="42.80" fill="#0202f0" stroke="#0000a8" stroke-width="0.5"/>
<line x1="225.65" y1="259.00" x2="225.65" y2="244.20" stroke="#6a6ae8" stroke-width="0.5" />
<line x1="224.45" y1="244.20" x2="226.85" y2="244.20" stroke="#6a6ae8" stroke-width="0.5" />
<rect x="228.95" y="290.55" width="5.80" height="11.50" fill="#f5101e" stroke="#b80a14" stroke-width="0.5"/>
<line x1="231.85" y1="290.30" x2="231.85" y2="282.20" stroke="#f07070" stroke-width="0.5" />
<line x1="230.65" y1="282.20" x2="233.05" y2="282.20" stroke="#f07070" stroke-width="0.5" />
<rect x="241.90" y="302.30" width="6.30" height="0.70" fill="#050505" />
<rect x="248.45" y="296.25" width="5.60" height="5.80" fill="#0202f0" stroke="#0000a8" stroke-width="0.5"/>
<line x1="251.25" y1="296.00" x2="251.25" y2="293.50" stroke="#6a6ae8" stroke-width="0.5" />
<line x1="250.05" y1="293.50" x2="252.45" y2="293.50" stroke="#6a6ae8" stroke-width="0.5" />
<rect x="254.55" y="276.55" width="5.80" height="25.50" fill="#f5101e" stroke="#b80a14" stroke-width="0.5"/>
<line x1="257.45" y1="276.30" x2="257.45" y2="256.00" stroke="#f07070" stroke-width="0.5" />
<line x1="256.25" y1="256.00" x2="258.65" y2="256.00" stroke="#f07070" stroke-width="0.5" />
<rect x="267.65" y="302.55" width="5.80" height="1.10" fill="#050505" stroke="#000" stroke-width="0.5"/>
<rect x="273.95" y="300.25" width="5.60" height="1.80" fill="#0202f0" stroke="#0000a8" stroke-width="0.5"/>
<rect x="280.05" y="297.25" width="5.80" height="4.80" fill="#f5101e" stroke="#b80a14" stroke-width="0.5"/>
<line x1="282.95" y1="297.00" x2="282.95" y2="294.80" stroke="#f07070" stroke-width="0.5" />
<line x1="281.75" y1="294.80" x2="284.15" y2="294.80" stroke="#f07070" stroke-width="0.5" />
<rect x="292.80" y="302.00" width="6.30" height="0.30" fill="#050505" />
<rect x="299.10" y="302.00" width="6.10" height="0.30" fill="#0202f0" />
<rect x="305.20" y="301.20" width="6.30" height="1.10" fill="#f5101e" />
<rect x="318.30" y="302.00" width="6.30" height="0.30" fill="#050505" />
<rect x="324.60" y="301.90" width="6.10" height="0.40" fill="#0202f0" />
<rect x="330.70" y="302.30" width="6.30" height="0.50" fill="#f5101e" />
<line x1="211.20" y1="302.30" x2="339.30" y2="302.30" stroke="#333" stroke-width="0.7" />
<line x1="212.70" y1="302.30" x2="212.70" y2="306.00" stroke="#888" stroke-width="0.6" />
<polyline points="218.20,245.60 218.20,244.40 233.20,244.40 233.20,245.60" fill="none" stroke="#888" stroke-width="0.45"/>
<text x="225.70" y="244.00" font-size="3.2" font-weight="bold" text-anchor="middle" fill="#777" font-style="normal" >**</text>
<polyline points="271.00,294.60 271.00,293.40 284.50,293.40 284.50,294.60" fill="none" stroke="#888" stroke-width="0.45"/>
<text x="277.75" y="293.00" font-size="3.2" font-weight="bold" text-anchor="middle" fill="#777" font-style="normal" >**</text>
<text x="225.50" y="313.00" font-size="5.1" font-weight="bold" text-anchor="middle" fill="#111" font-style="normal" >3 hr</text>
<text x="251.05" y="313.00" font-size="5.1" font-weight="bold" text-anchor="middle" fill="#111" font-style="normal" >d. 1</text>
<text x="276.50" y="313.00" font-size="5.1" font-weight="bold" text-anchor="middle" fill="#111" font-style="normal" >d. 3</text>
<text x="301.95" y="313.00" font-size="5.1" font-weight="bold" text-anchor="middle" fill="#111" font-style="normal" >d. 6</text>
<text x="327.00" y="313.00" font-size="5.1" font-weight="bold" text-anchor="middle" fill="#111" font-style="normal" >d. 14</text>
<text x="202.00" y="274.80" font-size="4.6" font-weight="bold" text-anchor="middle" fill="#222" font-style="normal" textLength="32.6" lengthAdjust="spacingAndGlyphs" transform="rotate(-90 202.00 274.80)" >relative change</text>
<line x1="238.30" y1="331.00" x2="238.30" y2="404.00" stroke="#9a9a9a" stroke-width="0.6" />
<line x1="263.80" y1="331.00" x2="263.80" y2="404.00" stroke="#9a9a9a" stroke-width="0.6" />
<line x1="289.20" y1="331.00" x2="289.20" y2="404.00" stroke="#9a9a9a" stroke-width="0.6" />
<line x1="314.70" y1="331.00" x2="314.70" y2="404.00" stroke="#9a9a9a" stroke-width="0.6" />
<line x1="212.70" y1="372.60" x2="339.30" y2="372.60" stroke="#555" stroke-width="0.7" />
<line x1="212.70" y1="396.00" x2="339.30" y2="396.00" stroke="#8a8a8a" stroke-width="0.6" />
<line x1="212.70" y1="334.50" x2="212.70" y2="396.00" stroke="#8a8a8a" stroke-width="0.6" stroke-dasharray="0.7 0.7"/>
<line x1="211.30" y1="336.00" x2="212.70" y2="336.00" stroke="#555" stroke-width="0.5" />
<text x="210.80" y="337.90" font-size="5.2" font-weight="bold" text-anchor="end" fill="#111" font-style="normal" stroke="#111" stroke-width="0.1">12</text>
<line x1="211.30" y1="342.70" x2="212.70" y2="342.70" stroke="#555" stroke-width="0.5" />
<text x="210.80" y="344.60" font-size="5.2" font-weight="bold" text-anchor="end" fill="#111" font-style="normal" stroke="#111" stroke-width="0.1">10</text>
<line x1="211.30" y1="349.40" x2="212.70" y2="349.40" stroke="#555" stroke-width="0.5" />
<text x="210.80" y="351.30" font-size="5.2" font-weight="bold" text-anchor="end" fill="#111" font-style="normal" stroke="#111" stroke-width="0.1">8</text>
<line x1="211.30" y1="356.10" x2="212.70" y2="356.10" stroke="#555" stroke-width="0.5" />
<text x="210.80" y="358.00" font-size="5.2" font-weight="bold" text-anchor="end" fill="#111" font-style="normal" stroke="#111" stroke-width="0.1">6</text>
<line x1="211.30" y1="362.80" x2="212.70" y2="362.80" stroke="#555" stroke-width="0.5" />
<text x="210.80" y="364.70" font-size="5.2" font-weight="bold" text-anchor="end" fill="#111" font-style="normal" stroke="#111" stroke-width="0.1">4</text>
<line x1="211.30" y1="369.50" x2="212.70" y2="369.50" stroke="#555" stroke-width="0.5" />
<text x="210.80" y="371.40" font-size="5.2" font-weight="bold" text-anchor="end" fill="#111" font-style="normal" stroke="#111" stroke-width="0.1">2</text>
<line x1="211.30" y1="376.20" x2="212.70" y2="376.20" stroke="#555" stroke-width="0.5" />
<text x="210.80" y="378.10" font-size="5.2" font-weight="bold" text-anchor="end" fill="#111" font-style="normal" stroke="#111" stroke-width="0.1">0</text>
<line x1="211.30" y1="382.90" x2="212.70" y2="382.90" stroke="#555" stroke-width="0.5" />
<text x="210.80" y="384.80" font-size="5.2" font-weight="bold" text-anchor="end" fill="#111" font-style="normal" stroke="#111" stroke-width="0.1">-2</text>
<line x1="211.30" y1="389.60" x2="212.70" y2="389.60" stroke="#555" stroke-width="0.5" />
<text x="210.80" y="391.50" font-size="5.2" font-weight="bold" text-anchor="end" fill="#111" font-style="normal" stroke="#111" stroke-width="0.1">-4</text>
<line x1="211.30" y1="396.30" x2="212.70" y2="396.30" stroke="#555" stroke-width="0.5" />
<text x="210.80" y="398.20" font-size="5.2" font-weight="bold" text-anchor="end" fill="#111" font-style="normal" stroke="#111" stroke-width="0.1">-6</text>
<text x="276.20" y="337.00" font-size="6.4" font-weight="bold" text-anchor="middle" fill="#000" font-style="italic" textLength="22.9" lengthAdjust="spacingAndGlyphs" stroke="#000" stroke-width="0.15">Tnfrsf-17</text>
<rect x="216.30" y="375.30" width="6.30" height="0.90" fill="#050505" />
<line x1="219.45" y1="375.30" x2="219.45" y2="370.00" stroke="#555" stroke-width="0.5" />
<line x1="218.25" y1="370.00" x2="220.65" y2="370.00" stroke="#555" stroke-width="0.5" />
<rect x="222.85" y="376.45" width="5.60" height="5.20" fill="#0202f0" stroke="#0000a8" stroke-width="0.5"/>
<line x1="225.65" y1="381.90" x2="225.65" y2="389.00" stroke="#6a6ae8" stroke-width="0.5" />
<line x1="224.45" y1="389.00" x2="226.85" y2="389.00" stroke="#6a6ae8" stroke-width="0.5" />
<rect x="228.95" y="364.65" width="5.80" height="11.30" fill="#f5101e" stroke="#b80a14" stroke-width="0.5"/>
<line x1="231.85" y1="364.40" x2="231.85" y2="360.20" stroke="#f07070" stroke-width="0.5" />
<line x1="230.65" y1="360.20" x2="233.05" y2="360.20" stroke="#f07070" stroke-width="0.5" />
<rect x="242.15" y="376.45" width="5.80" height="4.80" fill="#050505" stroke="#000" stroke-width="0.5"/>
<line x1="245.05" y1="381.50" x2="245.05" y2="391.30" stroke="#555" stroke-width="0.5" />
<line x1="243.85" y1="391.30" x2="246.25" y2="391.30" stroke="#555" stroke-width="0.5" />
<rect x="248.45" y="376.45" width="5.60" height="6.00" fill="#0202f0" stroke="#0000a8" stroke-width="0.5"/>
<line x1="251.25" y1="382.70" x2="251.25" y2="383.60" stroke="#6a6ae8" stroke-width="0.5" />
<line x1="250.05" y1="383.60" x2="252.45" y2="383.60" stroke="#6a6ae8" stroke-width="0.5" />
<rect x="254.55" y="376.45" width="5.80" height="4.80" fill="#f5101e" stroke="#b80a14" stroke-width="0.5"/>
<line x1="257.45" y1="381.50" x2="257.45" y2="393.20" stroke="#f07070" stroke-width="0.5" />
<line x1="256.25" y1="393.20" x2="258.65" y2="393.20" stroke="#f07070" stroke-width="0.5" />
<rect x="267.40" y="375.00" width="6.30" height="1.20" fill="#050505" />
<line x1="270.55" y1="375.00" x2="270.55" y2="369.60" stroke="#555" stroke-width="0.5" />
<line x1="269.35" y1="369.60" x2="271.75" y2="369.60" stroke="#555" stroke-width="0.5" />
<rect x="273.95" y="374.55" width="5.60" height="1.40" fill="#0202f0" stroke="#0000a8" stroke-width="0.5"/>
<line x1="276.75" y1="374.30" x2="276.75" y2="369.60" stroke="#6a6ae8" stroke-width="0.5" />
<line x1="275.55" y1="369.60" x2="277.95" y2="369.60" stroke="#6a6ae8" stroke-width="0.5" />
<rect x="280.05" y="359.75" width="5.80" height="16.20" fill="#f5101e" stroke="#b80a14" stroke-width="0.5"/>
<line x1="282.95" y1="359.50" x2="282.95" y2="351.30" stroke="#f07070" stroke-width="0.5" />
<line x1="281.75" y1="351.30" x2="284.15" y2="351.30" stroke="#f07070" stroke-width="0.5" />
<rect x="292.80" y="375.50" width="6.30" height="0.70" fill="#050505" />
<line x1="295.95" y1="375.50" x2="295.95" y2="369.80" stroke="#555" stroke-width="0.5" />
<line x1="294.75" y1="369.80" x2="297.15" y2="369.80" stroke="#555" stroke-width="0.5" />
<rect x="299.10" y="376.20" width="6.10" height="0.80" fill="#0202f0" />
<line x1="302.15" y1="377.00" x2="302.15" y2="380.00" stroke="#6a6ae8" stroke-width="0.5" />
<line x1="300.95" y1="380.00" x2="303.35" y2="380.00" stroke="#6a6ae8" stroke-width="0.5" />
<rect x="305.45" y="363.25" width="5.80" height="12.70" fill="#f5101e" stroke="#b80a14" stroke-width="0.5"/>
<line x1="308.35" y1="363.00" x2="308.35" y2="357.90" stroke="#f07070" stroke-width="0.5" />
<line x1="307.15" y1="357.90" x2="309.55" y2="357.90" stroke="#f07070" stroke-width="0.5" />
<rect x="318.30" y="376.20" width="6.30" height="0.40" fill="#050505" />
<line x1="321.45" y1="376.60" x2="321.45" y2="380.00" stroke="#555" stroke-width="0.5" />
<line x1="320.25" y1="380.00" x2="322.65" y2="380.00" stroke="#555" stroke-width="0.5" />
<rect x="324.85" y="372.05" width="5.60" height="3.90" fill="#0202f0" stroke="#0000a8" stroke-width="0.5"/>
<line x1="327.65" y1="371.80" x2="327.65" y2="368.00" stroke="#6a6ae8" stroke-width="0.5" />
<line x1="326.45" y1="368.00" x2="328.85" y2="368.00" stroke="#6a6ae8" stroke-width="0.5" />
<rect x="330.95" y="347.15" width="5.80" height="28.80" fill="#f5101e" stroke="#b80a14" stroke-width="0.5"/>
<line x1="333.85" y1="346.90" x2="333.85" y2="341.00" stroke="#f07070" stroke-width="0.5" />
<line x1="332.65" y1="341.00" x2="335.05" y2="341.00" stroke="#f07070" stroke-width="0.5" />
<line x1="211.20" y1="376.20" x2="339.30" y2="376.20" stroke="#333" stroke-width="0.7" />
<line x1="212.70" y1="376.20" x2="212.70" y2="396.00" stroke="#888" stroke-width="0.6" />
<polyline points="318.00,334.60 318.00,333.40 331.50,333.40 331.50,334.60" fill="none" stroke="#888" stroke-width="0.45"/>
<text x="324.75" y="333.00" font-size="3.2" font-weight="bold" text-anchor="middle" fill="#777" font-style="normal" >**</text>
<polyline points="326.00,336.60 326.00,335.40 332.00,335.40 332.00,336.60" fill="none" stroke="#888" stroke-width="0.45"/>
<text x="329.00" y="335.00" font-size="3.2" font-weight="bold" text-anchor="middle" fill="#777" font-style="normal" >**</text>
<text x="225.50" y="402.50" font-size="5.1" font-weight="bold" text-anchor="middle" fill="#111" font-style="normal" >3 hr</text>
<text x="251.05" y="402.50" font-size="5.1" font-weight="bold" text-anchor="middle" fill="#111" font-style="normal" >d. 1</text>
<text x="276.50" y="402.50" font-size="5.1" font-weight="bold" text-anchor="middle" fill="#111" font-style="normal" >d. 3</text>
<text x="301.95" y="402.50" font-size="5.1" font-weight="bold" text-anchor="middle" fill="#111" font-style="normal" >d. 6</text>
<text x="327.00" y="402.50" font-size="5.1" font-weight="bold" text-anchor="middle" fill="#111" font-style="normal" >d. 14</text>
<text x="202.40" y="365.10" font-size="4.6" font-weight="bold" text-anchor="middle" fill="#222" font-style="normal" textLength="32.6" lengthAdjust="spacingAndGlyphs" transform="rotate(-90 202.40 365.10)" >relative change</text>
<line x1="415.70" y1="3.50" x2="415.70" y2="78.00" stroke="#9a9a9a" stroke-width="0.6" />
<line x1="441.00" y1="3.50" x2="441.00" y2="78.00" stroke="#9a9a9a" stroke-width="0.6" />
<line x1="466.30" y1="3.50" x2="466.30" y2="78.00" stroke="#9a9a9a" stroke-width="0.6" />
<line x1="491.60" y1="3.50" x2="491.60" y2="78.00" stroke="#9a9a9a" stroke-width="0.6" />
<line x1="390.40" y1="68.90" x2="516.30" y2="68.90" stroke="#8a8a8a" stroke-width="0.6" />
<line x1="390.40" y1="7.00" x2="390.40" y2="68.90" stroke="#8a8a8a" stroke-width="0.6" stroke-dasharray="0.7 0.7"/>
<line x1="389.00" y1="7.40" x2="390.40" y2="7.40" stroke="#555" stroke-width="0.5" />
<text x="388.50" y="9.30" font-size="5.2" font-weight="bold" text-anchor="end" fill="#111" font-style="normal" stroke="#111" stroke-width="0.1">50</text>
<line x1="389.00" y1="18.68" x2="390.40" y2="18.68" stroke="#555" stroke-width="0.5" />
<text x="388.50" y="20.58" font-size="5.2" font-weight="bold" text-anchor="end" fill="#111" font-style="normal" stroke="#111" stroke-width="0.1">40</text>
<line x1="389.00" y1="29.96" x2="390.40" y2="29.96" stroke="#555" stroke-width="0.5" />
<text x="388.50" y="31.86" font-size="5.2" font-weight="bold" text-anchor="end" fill="#111" font-style="normal" stroke="#111" stroke-width="0.1">30</text>
<line x1="389.00" y1="41.24" x2="390.40" y2="41.24" stroke="#555" stroke-width="0.5" />
<text x="388.50" y="43.14" font-size="5.2" font-weight="bold" text-anchor="end" fill="#111" font-style="normal" stroke="#111" stroke-width="0.1">20</text>
<line x1="389.00" y1="52.52" x2="390.40" y2="52.52" stroke="#555" stroke-width="0.5" />
<text x="388.50" y="54.42" font-size="5.2" font-weight="bold" text-anchor="end" fill="#111" font-style="normal" stroke="#111" stroke-width="0.1">10</text>
<line x1="389.00" y1="63.80" x2="390.40" y2="63.80" stroke="#555" stroke-width="0.5" />
<text x="388.50" y="65.70" font-size="5.2" font-weight="bold" text-anchor="end" fill="#111" font-style="normal" stroke="#111" stroke-width="0.1">0</text>
<text x="453.90" y="10.20" font-size="6.4" font-weight="bold" text-anchor="middle" fill="#000" font-style="italic" textLength="21.7" lengthAdjust="spacingAndGlyphs" stroke="#000" stroke-width="0.15">Cxcl-10</text>
<rect x="393.50" y="63.80" width="6.30" height="0.80" fill="#050505" />
<rect x="400.05" y="42.25" width="6.20" height="21.30" fill="#0202f0" stroke="#0000a8" stroke-width="0.5"/>
<line x1="403.15" y1="42.00" x2="403.15" y2="34.70" stroke="#6a6ae8" stroke-width="0.5" />
<line x1="401.95" y1="34.70" x2="404.35" y2="34.70" stroke="#6a6ae8" stroke-width="0.5" />
<rect x="406.75" y="44.45" width="5.80" height="19.10" fill="#f5101e" stroke="#b80a14" stroke-width="0.5"/>
<line x1="409.65" y1="44.20" x2="409.65" y2="33.60" stroke="#f07070" stroke-width="0.5" />
<line x1="408.45" y1="33.60" x2="410.85" y2="33.60" stroke="#f07070" stroke-width="0.5" />
<rect x="419.05" y="64.05" width="5.80" height="3.00" fill="#050505" stroke="#000" stroke-width="0.5"/>
<rect x="425.35" y="46.95" width="6.20" height="16.60" fill="#0202f0" stroke="#0000a8" stroke-width="0.5"/>
<line x1="428.45" y1="46.70" x2="428.45" y2="35.70" stroke="#6a6ae8" stroke-width="0.5" />
<line x1="427.25" y1="35.70" x2="429.65" y2="35.70" stroke="#6a6ae8" stroke-width="0.5" />
<rect x="432.05" y="57.05" width="5.80" height="6.50" fill="#f5101e" stroke="#b80a14" stroke-width="0.5"/>
<line x1="434.95" y1="56.80" x2="434.95" y2="54.00" stroke="#f07070" stroke-width="0.5" />
<line x1="433.75" y1="54.00" x2="436.15" y2="54.00" stroke="#f07070" stroke-width="0.5" />
<rect x="444.10" y="62.90" width="6.30" height="0.90" fill="#050505" />
<rect x="450.65" y="60.15" width="6.20" height="3.40" fill="#0202f0" stroke="#0000a8" stroke-width="0.5"/>
<line x1="453.75" y1="59.90" x2="453.75" y2="58.00" stroke="#6a6ae8" stroke-width="0.5" />
<line x1="452.55" y1="58.00" x2="454.95" y2="58.00" stroke="#6a6ae8" stroke-width="0.5" />
<rect x="457.35" y="29.25" width="5.80" height="34.30" fill="#f5101e" stroke="#b80a14" stroke-width="0.5"/>
<line x1="460.25" y1="29.00" x2="460.25" y2="15.10" stroke="#f07070" stroke-width="0.5" />
<line x1="459.05" y1="15.10" x2="461.45" y2="15.10" stroke="#f07070" stroke-width="0.5" />
<rect x="469.40" y="63.80" width="6.30" height="0.50" fill="#050505" />
<rect x="475.95" y="60.85" width="6.20" height="2.70" fill="#0202f0" stroke="#0000a8" stroke-width="0.5"/>
<rect x="482.65" y="55.35" width="5.80" height="8.20" fill="#f5101e" stroke="#b80a14" stroke-width="0.5"/>
<line x1="485.55" y1="55.10" x2="485.55" y2="52.60" stroke="#f07070" stroke-width="0.5" />
<line x1="484.35" y1="52.60" x2="486.75" y2="52.60" stroke="#f07070" stroke-width="0.5" />
<rect x="494.95" y="53.85" width="5.80" height="9.70" fill="#050505" stroke="#000" stroke-width="0.5"/>
<line x1="497.85" y1="53.60" x2="497.85" y2="45.20" stroke="#555" stroke-width="0.5" />
<line x1="496.65" y1="45.20" x2="499.05" y2="45.20" stroke="#555" stroke-width="0.5" />
<rect x="501.25" y="61.85" width="6.20" height="1.70" fill="#0202f0" stroke="#0000a8" stroke-width="0.5"/>
<rect x="507.95" y="59.75" width="5.80" height="3.80" fill="#f5101e" stroke="#b80a14" stroke-width="0.5"/>
<line x1="510.85" y1="59.50" x2="510.85" y2="56.40" stroke="#f07070" stroke-width="0.5" />
<line x1="509.65" y1="56.40" x2="512.05" y2="56.40" stroke="#f07070" stroke-width="0.5" />
<line x1="388.90" y1="63.80" x2="516.30" y2="63.80" stroke="#333" stroke-width="0.7" />
<line x1="390.40" y1="63.80" x2="390.40" y2="68.90" stroke="#888" stroke-width="0.6" />
<polyline points="471.00,49.10 471.00,47.90 482.00,47.90 482.00,49.10" fill="none" stroke="#888" stroke-width="0.45"/>
<text x="476.50" y="47.50" font-size="3.2" font-weight="bold" text-anchor="middle" fill="#777" font-style="normal" >**</text>
<polyline points="478.50,51.70 478.50,50.50 485.50,50.50 485.50,51.70" fill="none" stroke="#888" stroke-width="0.45"/>
<text x="482.00" y="50.10" font-size="3.2" font-weight="bold" text-anchor="middle" fill="#777" font-style="normal" >**</text>
<text x="403.05" y="75.80" font-size="5.1" font-weight="bold" text-anchor="middle" fill="#111" font-style="normal" >3 hr</text>
<text x="428.35" y="75.80" font-size="5.1" font-weight="bold" text-anchor="middle" fill="#111" font-style="normal" >d. 1</text>
<text x="453.65" y="75.80" font-size="5.1" font-weight="bold" text-anchor="middle" fill="#111" font-style="normal" >d. 3</text>
<text x="478.95" y="75.80" font-size="5.1" font-weight="bold" text-anchor="middle" fill="#111" font-style="normal" >d. 6</text>
<text x="503.95" y="75.80" font-size="5.1" font-weight="bold" text-anchor="middle" fill="#111" font-style="normal" >d. 14</text>
<text x="380.70" y="37.70" font-size="4.6" font-weight="bold" text-anchor="middle" fill="#222" font-style="normal" textLength="32.6" lengthAdjust="spacingAndGlyphs" transform="rotate(-90 380.70 37.70)" >relative change</text>
<line x1="415.70" y1="82.00" x2="415.70" y2="155.50" stroke="#9a9a9a" stroke-width="0.6" />
<line x1="441.00" y1="82.00" x2="441.00" y2="155.50" stroke="#9a9a9a" stroke-width="0.6" />
<line x1="466.30" y1="82.00" x2="466.30" y2="155.50" stroke="#9a9a9a" stroke-width="0.6" />
<line x1="491.60" y1="82.00" x2="491.60" y2="155.50" stroke="#9a9a9a" stroke-width="0.6" />
<line x1="390.40" y1="146.80" x2="516.30" y2="146.80" stroke="#8a8a8a" stroke-width="0.6" />
<line x1="390.40" y1="84.00" x2="390.40" y2="112.50" stroke="#8a8a8a" stroke-width="0.6" stroke-dasharray="0.7 0.7"/>
<line x1="390.40" y1="116.00" x2="390.40" y2="146.80" stroke="#8a8a8a" stroke-width="0.6" stroke-dasharray="0.7 0.7"/>
<line x1="389.00" y1="84.30" x2="390.40" y2="84.30" stroke="#555" stroke-width="0.5" />
<text x="388.50" y="86.20" font-size="5.2" font-weight="bold" text-anchor="end" fill="#111" font-style="normal" stroke="#111" stroke-width="0.1">400</text>
<line x1="389.00" y1="92.20" x2="390.40" y2="92.20" stroke="#555" stroke-width="0.5" />
<text x="388.50" y="94.10" font-size="5.2" font-weight="bold" text-anchor="end" fill="#111" font-style="normal" stroke="#111" stroke-width="0.1">300</text>
<line x1="389.00" y1="100.10" x2="390.40" y2="100.10" stroke="#555" stroke-width="0.5" />
<text x="388.50" y="102.00" font-size="5.2" font-weight="bold" text-anchor="end" fill="#111" font-style="normal" stroke="#111" stroke-width="0.1">200</text>
<line x1="389.00" y1="108.10" x2="390.40" y2="108.10" stroke="#555" stroke-width="0.5" />
<text x="388.50" y="110.00" font-size="5.2" font-weight="bold" text-anchor="end" fill="#111" font-style="normal" stroke="#111" stroke-width="0.1">100</text>
<line x1="389.00" y1="118.00" x2="390.40" y2="118.00" stroke="#555" stroke-width="0.5" />
<text x="388.50" y="119.90" font-size="5.2" font-weight="bold" text-anchor="end" fill="#111" font-style="normal" stroke="#111" stroke-width="0.1">20</text>
<line x1="389.00" y1="123.75" x2="390.40" y2="123.75" stroke="#555" stroke-width="0.5" />
<text x="388.50" y="125.65" font-size="5.2" font-weight="bold" text-anchor="end" fill="#111" font-style="normal" stroke="#111" stroke-width="0.1">15</text>
<line x1="389.00" y1="129.50" x2="390.40" y2="129.50" stroke="#555" stroke-width="0.5" />
<text x="388.50" y="131.40" font-size="5.2" font-weight="bold" text-anchor="end" fill="#111" font-style="normal" stroke="#111" stroke-width="0.1">10</text>
<line x1="389.00" y1="135.25" x2="390.40" y2="135.25" stroke="#555" stroke-width="0.5" />
<text x="388.50" y="137.15" font-size="5.2" font-weight="bold" text-anchor="end" fill="#111" font-style="normal" stroke="#111" stroke-width="0.1">5</text>
<line x1="389.00" y1="141.00" x2="390.40" y2="141.00" stroke="#555" stroke-width="0.5" />
<text x="388.50" y="142.90" font-size="5.2" font-weight="bold" text-anchor="end" fill="#111" font-style="normal" stroke="#111" stroke-width="0.1">0</text>
<line x1="389.00" y1="146.75" x2="390.40" y2="146.75" stroke="#555" stroke-width="0.5" />
<text x="388.50" y="148.65" font-size="5.2" font-weight="bold" text-anchor="end" fill="#111" font-style="normal" stroke="#111" stroke-width="0.1">-5</text>
<text x="453.70" y="87.90" font-size="6.4" font-weight="bold" text-anchor="middle" fill="#000" font-style="italic" textLength="21.3" lengthAdjust="spacingAndGlyphs" stroke="#000" stroke-width="0.15">Cxcl-11</text>
<rect x="393.50" y="141.00" width="6.30" height="1.00" fill="#050505" />
<line x1="396.65" y1="142.00" x2="396.65" y2="144.20" stroke="#555" stroke-width="0.5" />
<line x1="395.45" y1="144.20" x2="397.85" y2="144.20" stroke="#555" stroke-width="0.5" />
<rect x="400.05" y="118.25" width="6.20" height="22.50" fill="#0202f0" stroke="#0000a8" stroke-width="0.5"/>
<rect x="400.05" y="94.05" width="6.20" height="17.70" fill="#0202f0" stroke="#0000a8" stroke-width="0.5"/>
<line x1="403.15" y1="93.80" x2="403.15" y2="87.50" stroke="#6a6ae8" stroke-width="0.5" />
<line x1="401.95" y1="87.50" x2="404.35" y2="87.50" stroke="#6a6ae8" stroke-width="0.5" />
<rect x="406.75" y="134.65" width="5.80" height="6.10" fill="#f5101e" stroke="#b80a14" stroke-width="0.5"/>
<line x1="409.65" y1="134.40" x2="409.65" y2="131.60" stroke="#f07070" stroke-width="0.5" />
<line x1="408.45" y1="131.60" x2="410.85" y2="131.60" stroke="#f07070" stroke-width="0.5" />
<rect x="418.80" y="141.00" width="6.30" height="0.00" fill="#050505" />
<line x1="421.95" y1="141.00" x2="421.95" y2="143.00" stroke="#555" stroke-width="0.5" />
<line x1="420.75" y1="143.00" x2="423.15" y2="143.00" stroke="#555" stroke-width="0.5" />
<rect x="425.35" y="128.75" width="6.20" height="12.00" fill="#0202f0" stroke="#0000a8" stroke-width="0.5"/>
<line x1="428.45" y1="128.50" x2="428.45" y2="123.80" stroke="#6a6ae8" stroke-width="0.5" />
<line x1="427.25" y1="123.80" x2="429.65" y2="123.80" stroke="#6a6ae8" stroke-width="0.5" />
<rect x="432.05" y="137.55" width="5.80" height="3.20" fill="#f5101e" stroke="#b80a14" stroke-width="0.5"/>
<rect x="444.35" y="137.55" width="5.80" height="3.20" fill="#050505" stroke="#000" stroke-width="0.5"/>
<line x1="447.25" y1="137.30" x2="447.25" y2="133.00" stroke="#555" stroke-width="0.5" />
<line x1="446.05" y1="133.00" x2="448.45" y2="133.00" stroke="#555" stroke-width="0.5" />
<rect x="450.65" y="139.25" width="6.20" height="1.50" fill="#0202f0" stroke="#0000a8" stroke-width="0.5"/>
<rect x="457.35" y="131.85" width="5.80" height="8.90" fill="#f5101e" stroke="#b80a14" stroke-width="0.5"/>
<line x1="460.25" y1="131.60" x2="460.25" y2="129.50" stroke="#f07070" stroke-width="0.5" />
<line x1="459.05" y1="129.50" x2="461.45" y2="129.50" stroke="#f07070" stroke-width="0.5" />
<rect x="469.40" y="141.00" width="6.30" height="0.20" fill="#050505" />
<line x1="472.55" y1="141.20" x2="472.55" y2="143.00" stroke="#555" stroke-width="0.5" />
<line x1="471.35" y1="143.00" x2="473.75" y2="143.00" stroke="#555" stroke-width="0.5" />
<rect x="475.70" y="140.00" width="6.70" height="1.00" fill="#0202f0" />
<rect x="482.65" y="135.65" width="5.80" height="5.10" fill="#f5101e" stroke="#b80a14" stroke-width="0.5"/>
<line x1="485.55" y1="135.40" x2="485.55" y2="134.00" stroke="#f07070" stroke-width="0.5" />
<line x1="484.35" y1="134.00" x2="486.75" y2="134.00" stroke="#f07070" stroke-width="0.5" />
<rect x="494.95" y="130.35" width="5.80" height="10.40" fill="#050505" stroke="#000" stroke-width="0.5"/>
<line x1="497.85" y1="130.10" x2="497.85" y2="118.00" stroke="#555" stroke-width="0.5" />
<line x1="496.65" y1="118.00" x2="499.05" y2="118.00" stroke="#555" stroke-width="0.5" />
<rect x="501.00" y="141.00" width="6.70" height="0.20" fill="#0202f0" />
<line x1="504.35" y1="141.20" x2="504.35" y2="142.50" stroke="#6a6ae8" stroke-width="0.5" />
<line x1="503.15" y1="142.50" x2="505.55" y2="142.50" stroke="#6a6ae8" stroke-width="0.5" />
<rect x="507.95" y="139.25" width="5.80" height="1.50" fill="#f5101e" stroke="#b80a14" stroke-width="0.5"/>
<line x1="510.85" y1="139.00" x2="510.85" y2="137.50" stroke="#f07070" stroke-width="0.5" />
<line x1="509.65" y1="137.50" x2="512.05" y2="137.50" stroke="#f07070" stroke-width="0.5" />
<line x1="388.90" y1="141.00" x2="516.30" y2="141.00" stroke="#333" stroke-width="0.7" />
<line x1="390.40" y1="141.00" x2="390.40" y2="146.80" stroke="#888" stroke-width="0.6" />
<polyline points="396.70,87.60 396.70,86.40 411.00,86.40 411.00,87.60" fill="none" stroke="#888" stroke-width="0.45"/>
<text x="403.85" y="86.00" font-size="3.2" font-weight="bold" text-anchor="middle" fill="#777" font-style="normal" >**</text>
<text x="403.05" y="153.40" font-size="5.1" font-weight="bold" text-anchor="middle" fill="#111" font-style="normal" >3 hr</text>
<text x="428.35" y="153.40" font-size="5.1" font-weight="bold" text-anchor="middle" fill="#111" font-style="normal" >d. 1</text>
<text x="453.65" y="153.40" font-size="5.1" font-weight="bold" text-anchor="middle" fill="#111" font-style="normal" >d. 3</text>
<text x="478.95" y="153.40" font-size="5.1" font-weight="bold" text-anchor="middle" fill="#111" font-style="normal" >d. 6</text>
<text x="503.95" y="153.40" font-size="5.1" font-weight="bold" text-anchor="middle" fill="#111" font-style="normal" >d. 14</text>
<text x="378.00" y="115.00" font-size="4.6" font-weight="bold" text-anchor="middle" fill="#222" font-style="normal" textLength="32.6" lengthAdjust="spacingAndGlyphs" transform="rotate(-90 378.00 115.00)" >relative change</text>
<line x1="415.70" y1="159.50" x2="415.70" y2="233.50" stroke="#9a9a9a" stroke-width="0.6" />
<line x1="441.00" y1="159.50" x2="441.00" y2="233.50" stroke="#9a9a9a" stroke-width="0.6" />
<line x1="466.30" y1="159.50" x2="466.30" y2="233.50" stroke="#9a9a9a" stroke-width="0.6" />
<line x1="491.60" y1="159.50" x2="491.60" y2="233.50" stroke="#9a9a9a" stroke-width="0.6" />
<line x1="390.40" y1="209.30" x2="516.30" y2="209.30" stroke="#555" stroke-width="0.7" />
<line x1="390.40" y1="226.00" x2="516.30" y2="226.00" stroke="#8a8a8a" stroke-width="0.6" />
<line x1="390.40" y1="164.00" x2="390.40" y2="226.00" stroke="#8a8a8a" stroke-width="0.6" stroke-dasharray="0.7 0.7"/>
<line x1="389.00" y1="165.70" x2="390.40" y2="165.70" stroke="#555" stroke-width="0.5" />
<text x="388.50" y="167.60" font-size="5.2" font-weight="bold" text-anchor="end" fill="#111" font-style="normal" stroke="#111" stroke-width="0.1">14</text>
<line x1="389.00" y1="172.40" x2="390.40" y2="172.40" stroke="#555" stroke-width="0.5" />
<text x="388.50" y="174.30" font-size="5.2" font-weight="bold" text-anchor="end" fill="#111" font-style="normal" stroke="#111" stroke-width="0.1">12</text>
<line x1="389.00" y1="179.10" x2="390.40" y2="179.10" stroke="#555" stroke-width="0.5" />
<text x="388.50" y="181.00" font-size="5.2" font-weight="bold" text-anchor="end" fill="#111" font-style="normal" stroke="#111" stroke-width="0.1">10</text>
<line x1="389.00" y1="185.80" x2="390.40" y2="185.80" stroke="#555" stroke-width="0.5" />
<text x="388.50" y="187.70" font-size="5.2" font-weight="bold" text-anchor="end" fill="#111" font-style="normal" stroke="#111" stroke-width="0.1">8</text>
<line x1="389.00" y1="192.50" x2="390.40" y2="192.50" stroke="#555" stroke-width="0.5" />
<text x="388.50" y="194.40" font-size="5.2" font-weight="bold" text-anchor="end" fill="#111" font-style="normal" stroke="#111" stroke-width="0.1">6</text>
<line x1="389.00" y1="199.20" x2="390.40" y2="199.20" stroke="#555" stroke-width="0.5" />
<text x="388.50" y="201.10" font-size="5.2" font-weight="bold" text-anchor="end" fill="#111" font-style="normal" stroke="#111" stroke-width="0.1">4</text>
<line x1="389.00" y1="205.90" x2="390.40" y2="205.90" stroke="#555" stroke-width="0.5" />
<text x="388.50" y="207.80" font-size="5.2" font-weight="bold" text-anchor="end" fill="#111" font-style="normal" stroke="#111" stroke-width="0.1">2</text>
<line x1="389.00" y1="212.60" x2="390.40" y2="212.60" stroke="#555" stroke-width="0.5" />
<text x="388.50" y="214.50" font-size="5.2" font-weight="bold" text-anchor="end" fill="#111" font-style="normal" stroke="#111" stroke-width="0.1">0</text>
<line x1="389.00" y1="219.30" x2="390.40" y2="219.30" stroke="#555" stroke-width="0.5" />
<text x="388.50" y="221.20" font-size="5.2" font-weight="bold" text-anchor="end" fill="#111" font-style="normal" stroke="#111" stroke-width="0.1">-2</text>
<line x1="389.00" y1="226.00" x2="390.40" y2="226.00" stroke="#555" stroke-width="0.5" />
<text x="388.50" y="227.90" font-size="5.2" font-weight="bold" text-anchor="end" fill="#111" font-style="normal" stroke="#111" stroke-width="0.1">-4</text>
<text x="452.70" y="165.40" font-size="6.4" font-weight="bold" text-anchor="middle" fill="#000" font-style="italic" textLength="12.6" lengthAdjust="spacingAndGlyphs" stroke="#000" stroke-width="0.15">Ccl-3</text>
<rect x="393.75" y="212.85" width="5.80" height="4.60" fill="#050505" stroke="#000" stroke-width="0.5"/>
<line x1="396.65" y1="217.70" x2="396.65" y2="223.30" stroke="#555" stroke-width="0.5" />
<line x1="395.45" y1="223.30" x2="397.85" y2="223.30" stroke="#555" stroke-width="0.5" />
<rect x="400.05" y="188.45" width="6.20" height="23.90" fill="#0202f0" stroke="#0000a8" stroke-width="0.5"/>
<line x1="403.15" y1="188.20" x2="403.15" y2="179.20" stroke="#6a6ae8" stroke-width="0.5" />
<line x1="401.95" y1="179.20" x2="404.35" y2="179.20" stroke="#6a6ae8" stroke-width="0.5" />
<rect x="406.75" y="209.05" width="5.80" height="3.30" fill="#f5101e" stroke="#b80a14" stroke-width="0.5"/>
<line x1="409.65" y1="208.80" x2="409.65" y2="204.40" stroke="#f07070" stroke-width="0.5" />
<line x1="408.45" y1="204.40" x2="410.85" y2="204.40" stroke="#f07070" stroke-width="0.5" />
<rect x="419.05" y="202.55" width="5.80" height="9.80" fill="#050505" stroke="#000" stroke-width="0.5"/>
<line x1="421.95" y1="202.30" x2="421.95" y2="199.20" stroke="#555" stroke-width="0.5" />
<line x1="420.75" y1="199.20" x2="423.15" y2="199.20" stroke="#555" stroke-width="0.5" />
<rect x="425.35" y="198.35" width="6.20" height="14.00" fill="#0202f0" stroke="#0000a8" stroke-width="0.5"/>
<line x1="428.45" y1="198.10" x2="428.45" y2="192.80" stroke="#6a6ae8" stroke-width="0.5" />
<line x1="427.25" y1="192.80" x2="429.65" y2="192.80" stroke="#6a6ae8" stroke-width="0.5" />
<rect x="432.05" y="180.05" width="5.80" height="32.30" fill="#f5101e" stroke="#b80a14" stroke-width="0.5"/>
<line x1="434.95" y1="179.80" x2="434.95" y2="165.50" stroke="#f07070" stroke-width="0.5" />
<line x1="433.75" y1="165.50" x2="436.15" y2="165.50" stroke="#f07070" stroke-width="0.5" />
<rect x="444.35" y="205.75" width="5.80" height="6.60" fill="#050505" stroke="#000" stroke-width="0.5"/>
<line x1="447.25" y1="205.50" x2="447.25" y2="204.00" stroke="#555" stroke-width="0.5" />
<line x1="446.05" y1="204.00" x2="448.45" y2="204.00" stroke="#555" stroke-width="0.5" />
<rect x="450.65" y="201.05" width="6.20" height="11.30" fill="#0202f0" stroke="#0000a8" stroke-width="0.5"/>
<line x1="453.75" y1="200.80" x2="453.75" y2="199.50" stroke="#6a6ae8" stroke-width="0.5" />
<line x1="452.55" y1="199.50" x2="454.95" y2="199.50" stroke="#6a6ae8" stroke-width="0.5" />
<rect x="457.35" y="212.85" width="5.80" height="1.40" fill="#f5101e" stroke="#b80a14" stroke-width="0.5"/>
<line x1="460.25" y1="214.50" x2="460.25" y2="217.00" stroke="#f07070" stroke-width="0.5" />
<line x1="459.05" y1="217.00" x2="461.45" y2="217.00" stroke="#f07070" stroke-width="0.5" />
<rect x="469.65" y="211.45" width="5.80" height="0.90" fill="#050505" stroke="#000" stroke-width="0.5"/>
<line x1="472.55" y1="211.20" x2="472.55" y2="205.50" stroke="#555" stroke-width="0.5" />
<line x1="471.35" y1="205.50" x2="473.75" y2="205.50" stroke="#555" stroke-width="0.5" />
<rect x="475.95" y="203.25" width="6.20" height="9.10" fill="#0202f0" stroke="#0000a8" stroke-width="0.5"/>
<line x1="479.05" y1="203.00" x2="479.05" y2="201.50" stroke="#6a6ae8" stroke-width="0.5" />
<line x1="477.85" y1="201.50" x2="480.25" y2="201.50" stroke="#6a6ae8" stroke-width="0.5" />
<rect x="482.65" y="212.85" width="5.80" height="9.60" fill="#f5101e" stroke="#b80a14" stroke-width="0.5"/>
<line x1="485.55" y1="222.70" x2="485.55" y2="224.00" stroke="#f07070" stroke-width="0.5" />
<line x1="484.35" y1="224.00" x2="486.75" y2="224.00" stroke="#f07070" stroke-width="0.5" />
<rect x="494.95" y="206.15" width="5.80" height="6.20" fill="#050505" stroke="#000" stroke-width="0.5"/>
<line x1="497.85" y1="205.90" x2="497.85" y2="204.50" stroke="#555" stroke-width="0.5" />
<line x1="496.65" y1="204.50" x2="499.05" y2="204.50" stroke="#555" stroke-width="0.5" />
<rect x="501.25" y="205.05" width="6.20" height="7.30" fill="#0202f0" stroke="#0000a8" stroke-width="0.5"/>
<rect x="507.95" y="212.85" width="5.80" height="2.90" fill="#f5101e" stroke="#b80a14" stroke-width="0.5"/>
<line x1="510.85" y1="216.00" x2="510.85" y2="220.60" stroke="#f07070" stroke-width="0.5" />
<line x1="509.65" y1="220.60" x2="512.05" y2="220.60" stroke="#f07070" stroke-width="0.5" />
<line x1="388.90" y1="212.60" x2="516.30" y2="212.60" stroke="#333" stroke-width="0.7" />
<line x1="390.40" y1="212.60" x2="390.40" y2="226.00" stroke="#888" stroke-width="0.6" />
<polyline points="396.00,180.40 396.00,179.20 411.00,179.20 411.00,180.40" fill="none" stroke="#888" stroke-width="0.45"/>
<text x="403.50" y="178.80" font-size="3.2" font-weight="bold" text-anchor="middle" fill="#777" font-style="normal" >**</text>
<polyline points="446.00,194.20 446.00,193.00 456.00,193.00 456.00,194.20" fill="none" stroke="#888" stroke-width="0.45"/>
<text x="451.00" y="192.60" font-size="3.2" font-weight="bold" text-anchor="middle" fill="#777" font-style="normal" >**</text>
<polyline points="453.00,197.20 453.00,196.00 460.00,196.00 460.00,197.20" fill="none" stroke="#888" stroke-width="0.45"/>
<text x="456.50" y="195.60" font-size="3.2" font-weight="bold" text-anchor="middle" fill="#777" font-style="normal" >**</text>
<polyline points="471.00,197.20 471.00,196.00 481.00,196.00 481.00,197.20" fill="none" stroke="#888" stroke-width="0.45"/>
<text x="476.00" y="195.60" font-size="3.2" font-weight="bold" text-anchor="middle" fill="#777" font-style="normal" >**</text>
<polyline points="478.00,200.20 478.00,199.00 485.00,199.00 485.00,200.20" fill="none" stroke="#888" stroke-width="0.45"/>
<text x="481.50" y="198.60" font-size="3.2" font-weight="bold" text-anchor="middle" fill="#777" font-style="normal" >**</text>
<polyline points="496.00,197.20 496.00,196.00 506.00,196.00 506.00,197.20" fill="none" stroke="#888" stroke-width="0.45"/>
<text x="501.00" y="195.60" font-size="3.2" font-weight="bold" text-anchor="middle" fill="#777" font-style="normal" >**</text>
<polyline points="503.00,200.20 503.00,199.00 511.00,199.00 511.00,200.20" fill="none" stroke="#888" stroke-width="0.45"/>
<text x="507.00" y="198.60" font-size="3.2" font-weight="bold" text-anchor="middle" fill="#777" font-style="normal" >**</text>
<text x="403.05" y="231.60" font-size="5.1" font-weight="bold" text-anchor="middle" fill="#111" font-style="normal" >3 hr</text>
<text x="428.35" y="231.60" font-size="5.1" font-weight="bold" text-anchor="middle" fill="#111" font-style="normal" >d. 1</text>
<text x="453.65" y="231.60" font-size="5.1" font-weight="bold" text-anchor="middle" fill="#111" font-style="normal" >d. 3</text>
<text x="478.95" y="231.60" font-size="5.1" font-weight="bold" text-anchor="middle" fill="#111" font-style="normal" >d. 6</text>
<text x="503.95" y="231.60" font-size="5.1" font-weight="bold" text-anchor="middle" fill="#111" font-style="normal" >d. 14</text>
<text x="378.70" y="194.30" font-size="4.6" font-weight="bold" text-anchor="middle" fill="#222" font-style="normal" textLength="32.6" lengthAdjust="spacingAndGlyphs" transform="rotate(-90 378.70 194.30)" >relative change</text>
<line x1="415.70" y1="237.50" x2="415.70" y2="314.00" stroke="#9a9a9a" stroke-width="0.6" />
<line x1="441.00" y1="237.50" x2="441.00" y2="314.00" stroke="#9a9a9a" stroke-width="0.6" />
<line x1="466.30" y1="237.50" x2="466.30" y2="314.00" stroke="#9a9a9a" stroke-width="0.6" />
<line x1="491.60" y1="237.50" x2="491.60" y2="314.00" stroke="#9a9a9a" stroke-width="0.6" />
<line x1="390.40" y1="272.10" x2="516.30" y2="272.10" stroke="#555" stroke-width="0.7" />
<line x1="390.40" y1="305.40" x2="516.30" y2="305.40" stroke="#8a8a8a" stroke-width="0.6" />
<line x1="390.40" y1="242.50" x2="390.40" y2="305.40" stroke="#8a8a8a" stroke-width="0.6" stroke-dasharray="0.7 0.7"/>
<line x1="389.00" y1="243.00" x2="390.40" y2="243.00" stroke="#555" stroke-width="0.5" />
<text x="388.50" y="244.90" font-size="5.2" font-weight="bold" text-anchor="end" fill="#111" font-style="normal" stroke="#111" stroke-width="0.1">15</text>
<line x1="389.00" y1="253.40" x2="390.40" y2="253.40" stroke="#555" stroke-width="0.5" />
<text x="388.50" y="255.30" font-size="5.2" font-weight="bold" text-anchor="end" fill="#111" font-style="normal" stroke="#111" stroke-width="0.1">10</text>
<line x1="389.00" y1="263.80" x2="390.40" y2="263.80" stroke="#555" stroke-width="0.5" />
<text x="388.50" y="265.70" font-size="5.2" font-weight="bold" text-anchor="end" fill="#111" font-style="normal" stroke="#111" stroke-width="0.1">5</text>
<line x1="389.00" y1="274.20" x2="390.40" y2="274.20" stroke="#555" stroke-width="0.5" />
<text x="388.50" y="276.10" font-size="5.2" font-weight="bold" text-anchor="end" fill="#111" font-style="normal" stroke="#111" stroke-width="0.1">0</text>
<line x1="389.00" y1="284.60" x2="390.40" y2="284.60" stroke="#555" stroke-width="0.5" />
<text x="388.50" y="286.50" font-size="5.2" font-weight="bold" text-anchor="end" fill="#111" font-style="normal" stroke="#111" stroke-width="0.1">-5</text>
<line x1="389.00" y1="295.00" x2="390.40" y2="295.00" stroke="#555" stroke-width="0.5" />
<text x="388.50" y="296.90" font-size="5.2" font-weight="bold" text-anchor="end" fill="#111" font-style="normal" stroke="#111" stroke-width="0.1">-10</text>
<line x1="389.00" y1="305.40" x2="390.40" y2="305.40" stroke="#555" stroke-width="0.5" />
<text x="388.50" y="307.30" font-size="5.2" font-weight="bold" text-anchor="end" fill="#111" font-style="normal" stroke="#111" stroke-width="0.1">-15</text>
<text x="452.70" y="245.20" font-size="6.4" font-weight="bold" text-anchor="middle" fill="#000" font-style="italic" textLength="12.6" lengthAdjust="spacingAndGlyphs" stroke="#000" stroke-width="0.15">Ccl-2</text>
<rect x="393.75" y="274.45" width="5.80" height="7.40" fill="#050505" stroke="#000" stroke-width="0.5"/>
<line x1="396.65" y1="282.10" x2="396.65" y2="284.70" stroke="#555" stroke-width="0.5" />
<line x1="395.45" y1="284.70" x2="397.85" y2="284.70" stroke="#555" stroke-width="0.5" />
<rect x="400.05" y="256.55" width="6.20" height="17.40" fill="#0202f0" stroke="#0000a8" stroke-width="0.5"/>
<line x1="403.15" y1="256.30" x2="403.15" y2="251.00" stroke="#6a6ae8" stroke-width="0.5" />
<line x1="401.95" y1="251.00" x2="404.35" y2="251.00" stroke="#6a6ae8" stroke-width="0.5" />
<rect x="406.75" y="274.45" width="5.80" height="11.70" fill="#f5101e" stroke="#b80a14" stroke-width="0.5"/>
<line x1="409.65" y1="286.40" x2="409.65" y2="294.10" stroke="#f07070" stroke-width="0.5" />
<line x1="408.45" y1="294.10" x2="410.85" y2="294.10" stroke="#f07070" stroke-width="0.5" />
<rect x="419.05" y="260.35" width="5.80" height="13.60" fill="#050505" stroke="#000" stroke-width="0.5"/>
<line x1="421.95" y1="260.10" x2="421.95" y2="242.60" stroke="#555" stroke-width="0.5" />
<line x1="420.75" y1="242.60" x2="423.15" y2="242.60" stroke="#555" stroke-width="0.5" />
<rect x="425.35" y="259.25" width="6.20" height="14.70" fill="#0202f0" stroke="#0000a8" stroke-width="0.5"/>
<line x1="428.45" y1="259.00" x2="428.45" y2="248.90" stroke="#6a6ae8" stroke-width="0.5" />
<line x1="427.25" y1="248.90" x2="429.65" y2="248.90" stroke="#6a6ae8" stroke-width="0.5" />
<rect x="432.05" y="271.65" width="5.80" height="2.30" fill="#f5101e" stroke="#b80a14" stroke-width="0.5"/>
<rect x="444.35" y="269.15" width="5.80" height="4.80" fill="#050505" stroke="#000" stroke-width="0.5"/>
<line x1="447.25" y1="268.90" x2="447.25" y2="267.00" stroke="#555" stroke-width="0.5" />
<line x1="446.05" y1="267.00" x2="448.45" y2="267.00" stroke="#555" stroke-width="0.5" />
<rect x="450.65" y="264.35" width="6.20" height="9.60" fill="#0202f0" stroke="#0000a8" stroke-width="0.5"/>
<line x1="453.75" y1="264.10" x2="453.75" y2="261.50" stroke="#6a6ae8" stroke-width="0.5" />
<line x1="452.55" y1="261.50" x2="454.95" y2="261.50" stroke="#6a6ae8" stroke-width="0.5" />
<rect x="457.35" y="274.45" width="5.80" height="5.10" fill="#f5101e" stroke="#b80a14" stroke-width="0.5"/>
<line x1="460.25" y1="279.80" x2="460.25" y2="282.60" stroke="#f07070" stroke-width="0.5" />
<line x1="459.05" y1="282.60" x2="461.45" y2="282.60" stroke="#f07070" stroke-width="0.5" />
<rect x="469.40" y="274.20" width="6.30" height="1.00" fill="#050505" />
<line x1="472.55" y1="275.20" x2="472.55" y2="277.00" stroke="#555" stroke-width="0.5" />
<line x1="471.35" y1="277.00" x2="473.75" y2="277.00" stroke="#555" stroke-width="0.5" />
<rect x="475.95" y="274.45" width="6.20" height="2.60" fill="#0202f0" stroke="#0000a8" stroke-width="0.5"/>
<rect x="482.65" y="274.45" width="5.80" height="14.80" fill="#f5101e" stroke="#b80a14" stroke-width="0.5"/>
<line x1="485.55" y1="289.50" x2="485.55" y2="295.20" stroke="#f07070" stroke-width="0.5" />
<line x1="484.35" y1="295.20" x2="486.75" y2="295.20" stroke="#f07070" stroke-width="0.5" />
<rect x="494.95" y="269.55" width="5.80" height="4.40" fill="#050505" stroke="#000" stroke-width="0.5"/>
<line x1="497.85" y1="269.30" x2="497.85" y2="267.00" stroke="#555" stroke-width="0.5" />
<line x1="496.65" y1="267.00" x2="499.05" y2="267.00" stroke="#555" stroke-width="0.5" />
<rect x="501.25" y="268.75" width="6.20" height="5.20" fill="#0202f0" stroke="#0000a8" stroke-width="0.5"/>
<rect x="507.95" y="274.45" width="5.80" height="12.10" fill="#f5101e" stroke="#b80a14" stroke-width="0.5"/>
<line x1="388.90" y1="274.20" x2="516.30" y2="274.20" stroke="#333" stroke-width="0.7" />
<line x1="390.40" y1="274.20" x2="390.40" y2="305.40" stroke="#888" stroke-width="0.6" />
<polyline points="396.00,251.20 396.00,250.00 411.00,250.00 411.00,251.20" fill="none" stroke="#888" stroke-width="0.45"/>
<text x="403.50" y="249.60" font-size="3.2" font-weight="bold" text-anchor="middle" fill="#777" font-style="normal" >**</text>
<polyline points="446.00,258.10 446.00,256.90 456.00,256.90 456.00,258.10" fill="none" stroke="#888" stroke-width="0.45"/>
<text x="451.00" y="256.50" font-size="3.2" font-weight="bold" text-anchor="middle" fill="#777" font-style="normal" >**</text>
<polyline points="453.00,260.60 453.00,259.40 460.00,259.40 460.00,260.60" fill="none" stroke="#888" stroke-width="0.45"/>
<text x="456.50" y="259.00" font-size="3.2" font-weight="bold" text-anchor="middle" fill="#777" font-style="normal" >**</text>
<polyline points="496.00,262.70 496.00,261.50 506.00,261.50 506.00,262.70" fill="none" stroke="#888" stroke-width="0.45"/>
<text x="501.00" y="261.10" font-size="3.2" font-weight="bold" text-anchor="middle" fill="#777" font-style="normal" >**</text>
<polyline points="503.00,264.80 503.00,263.60 511.00,263.60 511.00,264.80" fill="none" stroke="#888" stroke-width="0.45"/>
<text x="507.00" y="263.20" font-size="3.2" font-weight="bold" text-anchor="middle" fill="#777" font-style="normal" >**</text>
<text x="403.05" y="312.40" font-size="5.1" font-weight="bold" text-anchor="middle" fill="#111" font-style="normal" >3 hr</text>
<text x="428.35" y="312.40" font-size="5.1" font-weight="bold" text-anchor="middle" fill="#111" font-style="normal" >d. 1</text>
<text x="453.65" y="312.40" font-size="5.1" font-weight="bold" text-anchor="middle" fill="#111" font-style="normal" >d. 3</text>
<text x="478.95" y="312.40" font-size="5.1" font-weight="bold" text-anchor="middle" fill="#111" font-style="normal" >d. 6</text>
<text x="503.95" y="312.40" font-size="5.1" font-weight="bold" text-anchor="middle" fill="#111" font-style="normal" >d. 14</text>
<text x="379.00" y="274.00" font-size="4.6" font-weight="bold" text-anchor="middle" fill="#222" font-style="normal" textLength="32.6" lengthAdjust="spacingAndGlyphs" transform="rotate(-90 379.00 274.00)" >relative change</text>
<text x="186.30" y="13.50" font-size="11.2" font-weight="bold" text-anchor="start" fill="#000" font-style="normal" textLength="7.8" lengthAdjust="spacingAndGlyphs" >B</text>
<text x="352.90" y="13.10" font-size="11.2" font-weight="bold" text-anchor="start" fill="#000" font-style="normal" textLength="7.8" lengthAdjust="spacingAndGlyphs" >C</text>
<text x="193.30" y="328.80" font-size="11.2" font-weight="bold" text-anchor="start" fill="#000" font-style="normal" textLength="8.0" lengthAdjust="spacingAndGlyphs" >D</text>
<rect x="383.00" y="322.50" width="10.10" height="5.50" fill="#050505" />
<text x="397.40" y="327.95" font-size="7.4" font-weight="bold" text-anchor="start" fill="#000" font-style="normal" textLength="27.4" lengthAdjust="spacingAndGlyphs" >gr 1 MPL</text>
<rect x="383.00" y="332.30" width="10.10" height="5.80" fill="#0202f0" />
<text x="397.40" y="337.90" font-size="7.4" font-weight="bold" text-anchor="start" fill="#000" font-style="normal" textLength="33.2" lengthAdjust="spacingAndGlyphs" >gr 2 R-848</text>
<rect x="383.00" y="341.80" width="10.10" height="5.20" fill="#f5101e" />
<text x="397.40" y="347.10" font-size="7.4" font-weight="bold" text-anchor="start" fill="#000" font-style="normal" textLength="27.4" lengthAdjust="spacingAndGlyphs" >gr 3 CpG</text>
</svg>
</body></html>
